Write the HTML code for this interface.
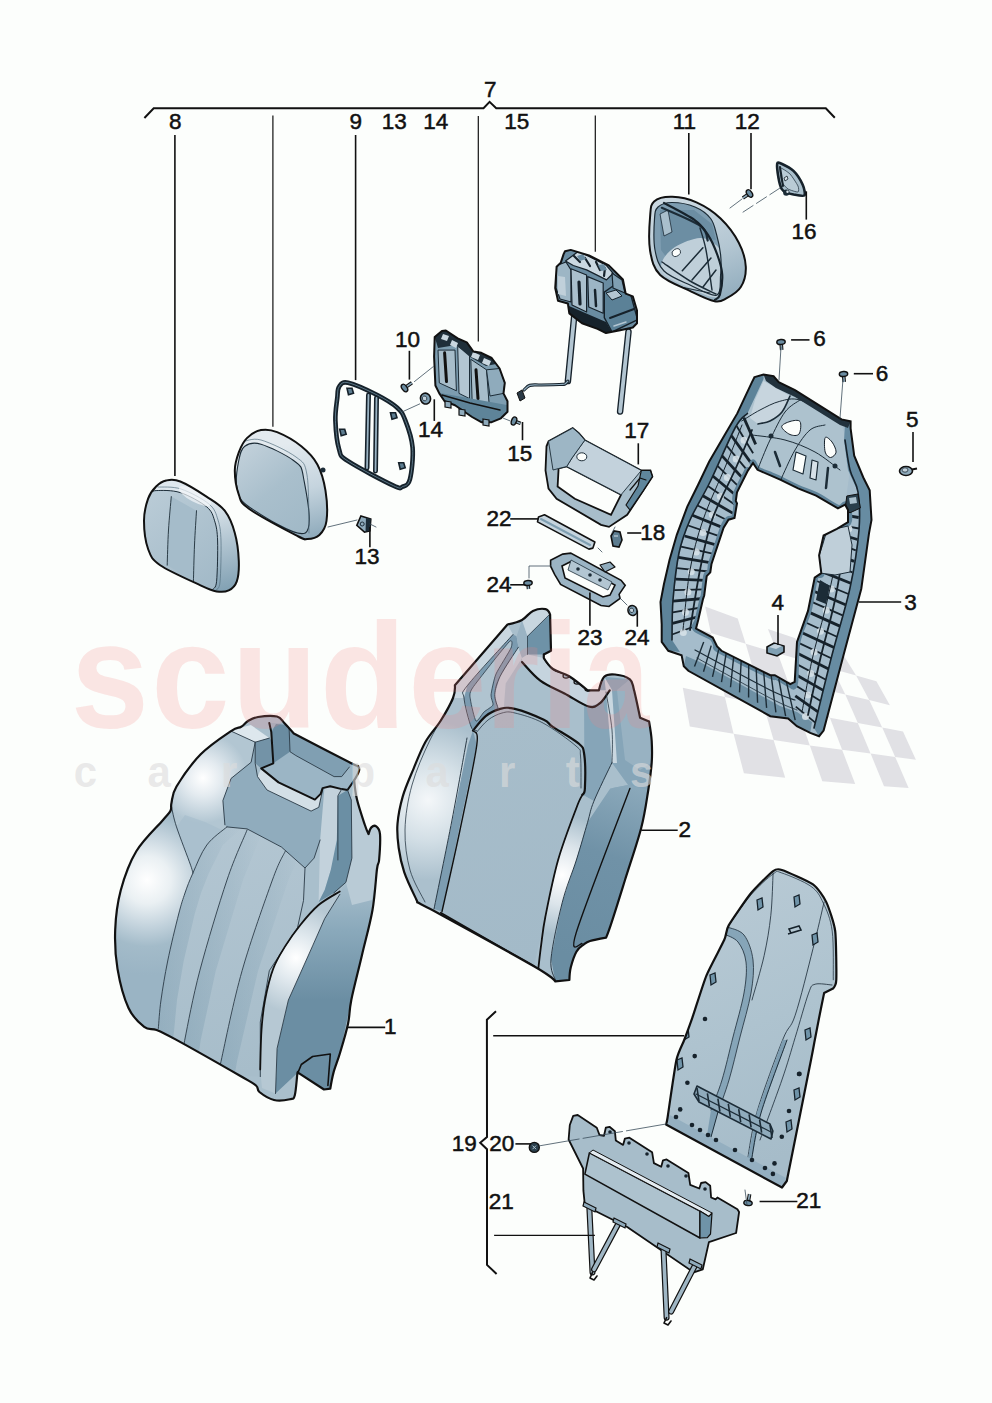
<!DOCTYPE html>
<html><head><meta charset="utf-8"><style>
html,body{margin:0;padding:0;background:#fcfefc;}
svg{display:block;}
text{font-family:"Liberation Sans",sans-serif;}
</style></head><body>
<svg width="992" height="1403" viewBox="0 0 992 1403">
<defs>
<linearGradient id="gSeatL" x1="0" y1="0" x2="1" y2="0">
 <stop offset="0" stop-color="#c9d7e0"/><stop offset="0.35" stop-color="#e4ebf0"/><stop offset="1" stop-color="#a9bfcc"/>
</linearGradient>
<linearGradient id="gMid" x1="0" y1="0" x2="1" y2="1">
 <stop offset="0" stop-color="#b9cbd6"/><stop offset="1" stop-color="#9fb7c6"/>
</linearGradient>
<linearGradient id="gDark" x1="0" y1="0" x2="1" y2="0">
 <stop offset="0" stop-color="#86a6b8"/><stop offset="1" stop-color="#5f869c"/>
</linearGradient>
<linearGradient id="gHead" x1="0" y1="0" x2="1" y2="1">
 <stop offset="0" stop-color="#c5d4de"/><stop offset="0.5" stop-color="#b3c6d2"/><stop offset="1" stop-color="#8eaabb"/>
</linearGradient>
<linearGradient id="gFrame" x1="0" y1="0" x2="1" y2="0">
 <stop offset="0" stop-color="#7f9fb2"/><stop offset="0.5" stop-color="#a3bccb"/><stop offset="1" stop-color="#6f92a6"/>
</linearGradient>
<clipPath id="c1"><path d="M248.0,721.0 C250.8,719.4 253.2,717.8 258.0,717.0 C262.8,716.2 272.6,715.5 277.0,716.5 C281.4,717.5 281.5,720.2 284.3,723.0 C287.1,725.8 293.8,733.5 293.8,733.5 C293.8,733.5 340.6,757.8 351.3,763.2 C362.0,768.6 356.7,764.8 358.0,766.1 C359.3,767.4 359.6,768.5 359.0,770.9 C358.4,773.3 354.2,780.4 354.2,780.4 C354.2,780.4 355.2,792.2 357.0,799.6 C358.8,807.0 362.8,818.8 364.7,824.5 C366.6,830.2 368.5,834.1 368.5,834.1 C368.5,834.1 370.1,828.7 371.4,827.4 C372.7,826.1 374.8,825.3 376.2,826.4 C377.6,827.5 379.5,828.5 380.0,834.1 C380.5,839.7 379.6,854.2 379.1,860.0 C378.6,865.8 378.1,860.7 377.0,869.0 C375.9,877.3 375.0,895.7 372.5,910.0 C370.0,924.3 365.5,940.0 362.0,955.0 C358.5,970.0 353.6,988.5 351.3,1000.0 C349.0,1011.5 349.9,1015.2 348.0,1024.0 C346.1,1032.8 342.4,1044.9 340.0,1053.0 C337.6,1061.1 335.1,1066.6 333.5,1072.6 C331.9,1078.5 330.3,1088.7 330.3,1088.7 C330.3,1088.7 324.0,1089.5 324.0,1089.5 C324.0,1089.5 298.0,1072.6 298.0,1072.6 C298.0,1072.6 297.8,1070.4 297.3,1074.2 C296.8,1078.0 296.0,1091.0 294.8,1095.2 C293.6,1099.4 293.5,1098.4 290.0,1099.2 C286.5,1100.0 279.1,1101.2 274.0,1100.0 C268.9,1098.8 262.4,1094.4 259.4,1092.0 C256.4,1089.6 259.2,1088.2 256.0,1085.5 C252.8,1082.8 253.4,1083.5 240.0,1075.8 C226.6,1068.1 189.4,1047.0 175.5,1039.4 C161.6,1031.8 161.9,1032.1 156.7,1030.0 C151.5,1027.9 148.9,1030.6 144.2,1026.9 C139.5,1023.2 132.9,1017.7 128.5,1008.0 C124.0,998.3 119.7,981.9 117.5,968.9 C115.3,955.9 114.7,942.8 115.2,929.7 C115.7,916.6 117.2,903.6 120.7,890.5 C124.2,877.4 129.2,863.0 136.3,851.3 C143.4,839.5 157.3,826.8 163.0,820.0 C168.7,813.2 169.1,813.6 170.5,810.7 C171.9,807.8 170.5,806.7 171.5,802.7 C172.5,798.7 171.6,794.6 176.5,786.5 C181.4,778.4 191.6,763.5 200.7,754.3 C209.8,745.1 224.2,735.7 231.0,731.1 C237.8,726.5 238.4,728.5 241.2,726.8 C244.0,725.1 245.2,722.6 248.0,721.0 Z"/></clipPath>
<radialGradient id="hl1" cx="147" cy="880" r="95" gradientUnits="userSpaceOnUse">
 <stop offset="0" stop-color="#ffffff"/><stop offset="0.25" stop-color="#eaf0f3"/><stop offset="0.5" stop-color="#c2d2dc"/><stop offset="0.7" stop-color="#a3bbc9"/><stop offset="1" stop-color="#9ab4c4"/></radialGradient>
<radialGradient id="hl2" cx="203" cy="778" r="45" gradientUnits="userSpaceOnUse">
 <stop offset="0" stop-color="#ffffff"/><stop offset="0.4" stop-color="#e4ebf0"/><stop offset="1" stop-color="#b2c6d2"/></radialGradient>
<radialGradient id="hl3" cx="296" cy="958" r="55" gradientUnits="userSpaceOnUse">
 <stop offset="0" stop-color="#ffffff"/><stop offset="0.4" stop-color="#e2eaef"/><stop offset="1" stop-color="#b6c8d3"/></radialGradient>
<linearGradient id="side1" x1="0" y1="860" x2="0" y2="1000" gradientUnits="userSpaceOnUse">
 <stop offset="0" stop-color="#b4c7d3"/><stop offset="0.5" stop-color="#8aa9bb"/><stop offset="1" stop-color="#6b8ea3"/></linearGradient>
<linearGradient id="ctr1" x1="200" y1="830" x2="260" y2="1070" gradientUnits="userSpaceOnUse">
 <stop offset="0" stop-color="#b3c6d2"/><stop offset="1" stop-color="#a7bdca"/></linearGradient>
<linearGradient id="stb" x1="0" y1="0" x2="1" y2="0"><stop offset="0" stop-color="#6f93a8" stop-opacity="0.38"/><stop offset="1" stop-color="#6f93a8" stop-opacity="0"/></linearGradient><clipPath id="c2"><path d="M507.5,624.5 C507.5,624.5 517.8,622.3 522.0,620.0 C526.2,617.7 529.0,612.7 532.9,610.9 C536.8,609.1 542.7,608.5 545.6,609.1 C548.5,609.7 550.1,614.5 550.1,614.5 C550.1,614.5 551.0,650.8 551.0,650.8 C551.0,650.8 543.8,654.4 543.8,654.4 C543.8,654.4 543.8,658.0 543.8,658.0 C543.8,658.0 548.7,666.0 552.9,669.0 C557.1,672.0 563.4,672.7 569.2,676.2 C575.0,679.8 587.6,690.3 587.6,690.3 C587.6,690.3 598.9,690.3 598.9,690.3 C598.9,690.3 601.5,679.3 604.2,676.7 C606.9,674.1 610.7,674.1 615.0,674.5 C619.3,674.9 626.7,676.7 629.9,679.3 C633.1,681.9 632.3,683.6 634.0,690.0 C635.7,696.4 640.1,717.8 640.1,717.8 C640.1,717.8 649.1,721.6 649.1,721.6 C649.1,721.6 651.3,734.1 651.7,741.0 C652.1,747.9 652.3,754.5 651.7,762.7 C651.1,770.9 650.0,779.1 648.3,790.0 C646.5,800.9 645.1,813.0 641.2,828.0 C637.3,843.0 629.9,864.3 625.0,880.0 C620.1,895.7 614.9,912.5 611.7,922.1 C608.6,931.7 606.1,937.6 606.1,937.6 C606.1,937.6 593.8,939.8 590.0,941.0 C586.2,942.2 585.8,942.9 583.5,944.7 C581.2,946.5 578.5,947.9 576.4,951.7 C574.3,955.5 572.0,962.6 570.8,967.3 C569.6,972.0 569.4,980.0 569.4,980.0 C569.4,980.0 555.3,981.4 555.3,981.4 C555.3,981.4 553.1,977.4 534.0,966.3 C514.9,955.1 459.6,925.0 440.5,914.5 C421.4,904.0 423.3,905.8 419.3,903.3 C415.3,900.8 418.8,904.6 416.3,899.4 C413.8,894.2 407.1,880.7 404.2,872.1 C401.3,863.5 399.8,856.0 398.7,848.0 C397.6,840.0 396.8,832.4 397.5,823.8 C398.2,815.2 400.1,805.7 402.7,796.6 C405.3,787.5 409.5,778.4 413.3,769.3 C417.1,760.2 420.9,750.0 425.4,742.0 C429.9,734.0 435.9,728.3 440.5,721.0 C445.1,713.7 450.6,704.0 453.0,698.0 C455.4,692.0 454.9,685.3 454.9,685.3 C454.9,685.3 507.5,624.5 507.5,624.5 Z"/></clipPath>
<radialGradient id="hl21" cx="428" cy="800" r="80" gradientUnits="userSpaceOnUse">
 <stop offset="0" stop-color="#f4f7f9"/><stop offset="0.5" stop-color="#d3dfe6"/><stop offset="1" stop-color="#abc0cd"/></radialGradient>
<radialGradient id="hl22" cx="562" cy="875" r="60" gradientUnits="userSpaceOnUse">
 <stop offset="0" stop-color="#ffffff"/><stop offset="0.5" stop-color="#dbe4ea"/><stop offset="1" stop-color="#a9bfcc"/></radialGradient>
<linearGradient id="dk2" x1="640" y1="790" x2="580" y2="960" gradientUnits="userSpaceOnUse">
 <stop offset="0" stop-color="#8aa8ba"/><stop offset="0.4" stop-color="#7092a7"/><stop offset="1" stop-color="#6a8da2"/></linearGradient>
<linearGradient id="ctr2" x1="480" y1="720" x2="540" y2="960" gradientUnits="userSpaceOnUse">
 <stop offset="0" stop-color="#a7bdca"/><stop offset="1" stop-color="#a3bac8"/></linearGradient>
<clipPath id="c3"><path d="M754.5,377.1 L763.5,374.6 L773.6,376.1 L778.7,382.1 L795.0,390.2 L841.5,419.4 L850.6,421.3 L850.6,428.5 L854.2,455.7 L863.3,477.5 L869.7,490.2 L871.5,520.0 L869.0,533.3 L861.3,588.7 L843.5,655.2 L823.6,730.6 L819.1,736.2 L810.2,732.9 L796.9,726.2 L788.1,718.5 L770.3,716.2 L688.3,670.8 L683.8,666.3 L681.6,655.2 L668.3,650.8 L661.7,641.9 L661.7,624.2 L660.5,602.0 L663.9,584.3 L669.5,560.0 L676.8,534.8 L687.3,506.6 L698.0,485.0 L709.1,461.8 L723.2,437.6 L737.3,413.4 L751.5,383.1 Z M753.0,463.0 L757.5,469.8 L771.6,475.9 L780.7,479.9 L798.0,488.4 L816.1,495.6 L837.9,508.3 L845.2,504.7 L848.0,510.0 L848.0,522.2 L836.9,528.8 L823.6,535.5 L819.1,555.4 L821.3,573.2 L814.7,577.6 L808.0,610.9 L797.0,641.9 L794.7,681.9 L790.3,684.1 L774.8,675.2 L770.3,675.2 L721.5,650.8 L717.1,646.4 L712.7,637.5 L696.0,628.6 L698.2,620.0 L703.0,599.1 L704.2,595.5 L706.7,576.1 L710.3,572.4 L711.5,563.9 L713.9,556.7 L723.6,527.6 L728.5,519.7 L734.5,517.9 L737.0,503.3 L735.8,500.9 L737.0,492.4 L747.9,470.6 Z" clip-rule="evenodd"/></clipPath><clipPath id="cbp"><path d="M728.7,925.4 C731.4,920.8 746.5,898.7 750.9,893.3 C755.3,887.9 770.0,873.4 773.1,871.1 C776.2,868.8 777.9,868.7 781.9,870.0 C785.9,871.3 808.6,881.2 813.0,884.4 C817.4,887.6 824.1,897.4 826.3,902.1 C828.5,906.8 834.2,923.2 835.2,931.0 C836.2,938.8 836.5,974.0 836.3,979.8 C836.1,985.6 833.0,988.6 833.0,988.6 C833.0,988.6 824.1,993.1 824.1,993.1 C824.1,993.1 820.5,1010.5 819.6,1015.2 C818.7,1019.9 815.7,1035.5 814.8,1040.0 C813.9,1044.5 813.8,1045.9 811.0,1060.0 C808.2,1074.1 786.8,1181.0 786.8,1181.0 C786.8,1181.0 782.0,1187.5 782.0,1187.5 C782.0,1187.5 666.0,1124.5 666.0,1124.5 C666.0,1124.5 666.5,1124.5 667.5,1118.0 C668.5,1111.5 674.7,1067.8 676.4,1060.0 C678.1,1052.2 682.5,1044.5 684.2,1040.0 C685.9,1035.5 691.0,1021.7 693.2,1015.2 C695.4,1008.7 703.4,982.8 706.5,975.3 C709.6,967.8 722.1,944.8 724.3,939.8 C726.5,934.8 726.0,930.0 728.7,925.4 Z"/></clipPath>
<linearGradient id="gbp" x1="700" y1="900" x2="800" y2="1150" gradientUnits="userSpaceOnUse">
 <stop offset="0" stop-color="#b7c9d4"/><stop offset="0.5" stop-color="#aec3cf"/><stop offset="1" stop-color="#a6bcc9"/></linearGradient>
<clipPath id="c11"><path d="M654.1,201.4 C657.8,198.1 665.2,196.6 672.3,196.8 C679.4,197.0 688.5,198.8 696.5,202.4 C704.5,206.0 713.6,211.8 720.6,218.5 C727.6,225.2 734.6,234.6 738.8,242.7 C743.0,250.8 745.5,259.5 745.8,266.9 C746.1,274.3 744.0,281.9 740.8,287.1 C737.6,292.3 731.1,295.9 726.7,298.2 C722.3,300.5 720.7,302.4 714.6,301.2 C708.5,300.0 699.5,295.5 690.4,291.1 C681.3,286.7 666.9,281.7 660.2,275.0 C653.5,268.3 651.8,260.6 650.1,250.8 C648.4,241.1 649.4,224.7 650.1,216.5 C650.8,208.3 650.4,204.7 654.1,201.4 Z"/></clipPath>
<linearGradient id="g11" x1="700" y1="200" x2="740" y2="300" gradientUnits="userSpaceOnUse">
 <stop offset="0" stop-color="#c9d7e0"/><stop offset="0.5" stop-color="#b3c6d2"/><stop offset="1" stop-color="#8eaabb"/></linearGradient>
<clipPath id="cmB"><path d="M565.0,251.3 L570.7,249.9 L589.0,255.5 L608.8,265.4 L614.4,271.0 L622.9,279.5 L625.7,293.6 L632.8,296.4 L637.0,310.6 L637.0,323.3 L632.8,327.5 L620.1,330.3 L606.0,333.1 L597.5,328.9 L582.0,323.3 L569.3,313.4 L567.9,303.5 L558.0,300.7 L555.2,288.0 L556.6,266.8 L560.8,262.6 L563.6,254.1 Z"/></clipPath><clipPath id="cmA"><path d="M434.7,337.0 L441.9,331.1 L445.9,330.5 L457.7,338.3 L466.8,342.3 L473.4,351.5 L481.3,352.8 L491.7,358.0 L499.6,368.5 L504.8,382.9 L503.5,393.4 L507.5,401.3 L507.5,411.7 L500.9,418.3 L491.7,422.2 L481.3,422.2 L472.1,417.0 L455.0,405.2 L444.6,401.3 L439.3,393.4 L435.4,385.5 L434.1,356.7 Z"/></clipPath><clipPath id="c8"><path d="M166.2,480.5 C170.2,479.7 173.6,478.8 180.3,481.5 C187.0,484.2 199.1,491.7 206.5,496.6 C213.9,501.5 220.0,504.6 224.7,510.7 C229.4,516.8 232.5,524.5 234.8,532.9 C237.2,541.3 238.5,553.0 238.8,561.1 C239.1,569.2 238.5,576.4 236.8,581.3 C235.1,586.2 232.1,588.7 228.7,590.4 C225.3,592.1 221.3,592.2 216.6,591.4 C211.9,590.5 209.9,589.7 200.5,585.3 C191.1,580.9 168.9,571.2 160.2,565.2 C151.5,559.2 150.8,556.4 148.1,549.0 C145.4,541.6 144.0,529.2 144.0,520.8 C144.0,512.4 146.1,504.3 148.1,498.6 C150.1,492.9 153.1,489.5 156.1,486.5 C159.1,483.5 162.2,481.3 166.2,480.5 Z"/></clipPath>
<linearGradient id="g8s" x1="215" y1="500" x2="238" y2="590" gradientUnits="userSpaceOnUse">
 <stop offset="0" stop-color="#dfe8ee"/><stop offset="0.45" stop-color="#b3c6d2"/><stop offset="1" stop-color="#7f9fb2"/></linearGradient>
<linearGradient id="g8f" x1="145" y1="500" x2="215" y2="580" gradientUnits="userSpaceOnUse">
 <stop offset="0" stop-color="#b9cbd6"/><stop offset="1" stop-color="#a3bac8"/></linearGradient>
<clipPath id="chc"><path d="M261.0,430.1 C266.0,429.1 270.4,429.4 277.1,432.1 C283.8,434.8 294.6,440.8 301.3,446.2 C308.0,451.6 313.4,457.0 317.4,464.4 C321.4,471.8 324.0,481.2 325.5,490.6 C327.0,500.0 327.5,513.4 326.5,520.8 C325.5,528.2 322.6,531.9 319.4,534.9 C316.2,537.9 311.0,538.8 307.3,539.0 C303.6,539.2 307.0,540.9 297.3,535.9 C287.6,530.9 258.6,515.6 248.9,508.7 C239.2,501.8 241.2,501.0 238.8,494.6 C236.5,488.2 234.8,477.4 234.8,470.4 C234.8,463.3 236.8,457.7 238.8,452.3 C240.8,446.9 243.2,441.8 246.9,438.1 C250.6,434.4 256.0,431.1 261.0,430.1 Z"/></clipPath>
<linearGradient id="ghcs" x1="300" y1="440" x2="325" y2="535" gradientUnits="userSpaceOnUse">
 <stop offset="0" stop-color="#e3eaef"/><stop offset="0.5" stop-color="#c5d4de"/><stop offset="1" stop-color="#8eaabb"/></linearGradient>
<linearGradient id="ghcf" x1="240" y1="450" x2="305" y2="530" gradientUnits="userSpaceOnUse">
 <stop offset="0" stop-color="#c1d0da"/><stop offset="0.5" stop-color="#a9bfcc"/><stop offset="1" stop-color="#a1b9c7"/></linearGradient>
</defs>
<rect width="992" height="1403" fill="#fcfefc"/>
<g><path d="M705.1,606.5 L737.7,618.5 L745.7,643.7 L710.9,632.9 Z" fill="#e1e1e5" stroke="none" stroke-width="1.6" stroke-linejoin="round" /><path d="M767.9,629.1 L795.4,638.3 L806.8,661.6 L777.7,653.2 Z" fill="#e1e1e5" stroke="none" stroke-width="1.6" stroke-linejoin="round" /><path d="M820.3,646.5 L842.6,653.7 L856.1,675.4 L832.9,668.9 Z" fill="#e1e1e5" stroke="none" stroke-width="1.6" stroke-linejoin="round" /><path d="M673.1,620.5 L710.9,632.9 L717.4,663.2 L677.4,652.3 Z" fill="#e1e1e5" stroke="none" stroke-width="1.6" stroke-linejoin="round" /><path d="M745.7,643.7 L777.7,653.2 L787.8,681.0 L754.2,672.7 Z" fill="#e1e1e5" stroke="none" stroke-width="1.6" stroke-linejoin="round" /><path d="M806.8,661.6 L832.9,668.9 L845.3,694.5 L818.2,688.2 Z" fill="#e1e1e5" stroke="none" stroke-width="1.6" stroke-linejoin="round" /><path d="M856.1,675.4 L876.4,681.3 L889.9,705.2 L869.2,700.1 Z" fill="#e1e1e5" stroke="none" stroke-width="1.6" stroke-linejoin="round" /><path d="M717.4,663.2 L754.2,672.7 L763.4,704.9 L724.9,697.0 Z" fill="#e1e1e5" stroke="none" stroke-width="1.6" stroke-linejoin="round" /><path d="M787.8,681.0 L818.2,688.2 L829.9,717.7 L798.4,711.8 Z" fill="#e1e1e5" stroke="none" stroke-width="1.6" stroke-linejoin="round" /><path d="M845.3,694.5 L869.2,700.1 L882.2,727.4 L857.8,722.9 Z" fill="#e1e1e5" stroke="none" stroke-width="1.6" stroke-linejoin="round" /><path d="M682.8,687.7 L724.9,697.0 L733.6,733.8 L689.8,726.4 Z" fill="#e1e1e5" stroke="none" stroke-width="1.6" stroke-linejoin="round" /><path d="M763.4,704.9 L798.4,711.8 L809.8,745.4 L773.6,740.1 Z" fill="#e1e1e5" stroke="none" stroke-width="1.6" stroke-linejoin="round" /><path d="M829.9,717.7 L857.8,722.9 L870.6,753.6 L842.1,749.8 Z" fill="#e1e1e5" stroke="none" stroke-width="1.6" stroke-linejoin="round" /><path d="M882.2,727.4 L903.0,731.5 L915.9,759.8 L895.2,756.9 Z" fill="#e1e1e5" stroke="none" stroke-width="1.6" stroke-linejoin="round" /><path d="M733.6,733.8 L773.6,740.1 L785.2,777.7 L743.9,773.3 Z" fill="#e1e1e5" stroke="none" stroke-width="1.6" stroke-linejoin="round" /><path d="M809.8,745.4 L842.1,749.8 L855.2,784.0 L822.3,781.2 Z" fill="#e1e1e5" stroke="none" stroke-width="1.6" stroke-linejoin="round" /><path d="M870.6,753.6 L895.2,756.9 L908.6,788.0 L884.0,786.2 Z" fill="#e1e1e5" stroke="none" stroke-width="1.6" stroke-linejoin="round" /></g>
<g clip-path="url(#c1)"><path d="M248.0,721.0 C250.8,719.4 253.2,717.8 258.0,717.0 C262.8,716.2 272.6,715.5 277.0,716.5 C281.4,717.5 281.5,720.2 284.3,723.0 C287.1,725.8 293.8,733.5 293.8,733.5 C293.8,733.5 340.6,757.8 351.3,763.2 C362.0,768.6 356.7,764.8 358.0,766.1 C359.3,767.4 359.6,768.5 359.0,770.9 C358.4,773.3 354.2,780.4 354.2,780.4 C354.2,780.4 355.2,792.2 357.0,799.6 C358.8,807.0 362.8,818.8 364.7,824.5 C366.6,830.2 368.5,834.1 368.5,834.1 C368.5,834.1 370.1,828.7 371.4,827.4 C372.7,826.1 374.8,825.3 376.2,826.4 C377.6,827.5 379.5,828.5 380.0,834.1 C380.5,839.7 379.6,854.2 379.1,860.0 C378.6,865.8 378.1,860.7 377.0,869.0 C375.9,877.3 375.0,895.7 372.5,910.0 C370.0,924.3 365.5,940.0 362.0,955.0 C358.5,970.0 353.6,988.5 351.3,1000.0 C349.0,1011.5 349.9,1015.2 348.0,1024.0 C346.1,1032.8 342.4,1044.9 340.0,1053.0 C337.6,1061.1 335.1,1066.6 333.5,1072.6 C331.9,1078.5 330.3,1088.7 330.3,1088.7 C330.3,1088.7 324.0,1089.5 324.0,1089.5 C324.0,1089.5 298.0,1072.6 298.0,1072.6 C298.0,1072.6 297.8,1070.4 297.3,1074.2 C296.8,1078.0 296.0,1091.0 294.8,1095.2 C293.6,1099.4 293.5,1098.4 290.0,1099.2 C286.5,1100.0 279.1,1101.2 274.0,1100.0 C268.9,1098.8 262.4,1094.4 259.4,1092.0 C256.4,1089.6 259.2,1088.2 256.0,1085.5 C252.8,1082.8 253.4,1083.5 240.0,1075.8 C226.6,1068.1 189.4,1047.0 175.5,1039.4 C161.6,1031.8 161.9,1032.1 156.7,1030.0 C151.5,1027.9 148.9,1030.6 144.2,1026.9 C139.5,1023.2 132.9,1017.7 128.5,1008.0 C124.0,998.3 119.7,981.9 117.5,968.9 C115.3,955.9 114.7,942.8 115.2,929.7 C115.7,916.6 117.2,903.6 120.7,890.5 C124.2,877.4 129.2,863.0 136.3,851.3 C143.4,839.5 157.3,826.8 163.0,820.0 C168.7,813.2 169.1,813.6 170.5,810.7 C171.9,807.8 170.5,806.7 171.5,802.7 C172.5,798.7 171.6,794.6 176.5,786.5 C181.4,778.4 191.6,763.5 200.7,754.3 C209.8,745.1 224.2,735.7 231.0,731.1 C237.8,726.5 238.4,728.5 241.2,726.8 C244.0,725.1 245.2,722.6 248.0,721.0 Z" fill="#a9bfcc" stroke="none" stroke-width="1.6" stroke-linejoin="round" /><path d="M339.8,894.4 L352.0,858.0 L358.0,800.0 L380.0,834.0 L379.0,860.0 L372.5,910.0 L362.0,955.0 L351.3,1000.0 L340.0,1053.0 L330.3,1088.7 L324.0,1089.5 L298.0,1072.6 L275.5,1093.5 L277.1,1048.4 L288.4,1000.0 L300.5,973.0 L312.6,945.9 L324.7,918.6 Z" fill="url(#side1)" stroke="none" stroke-width="1.6" stroke-linejoin="round" /><path d="M354.2,780.4 L357.0,799.6 L364.7,824.5 L368.5,834.1 L371.4,827.4 L376.2,826.4 L380.0,834.1 L379.1,860.0 L372.0,900.0 L352.0,905.0 L345.9,882.3 L351.9,858.1 L351.3,800.0 Z" fill="#b9cbd6" stroke="none" stroke-width="1.6" stroke-linejoin="round" /><path d="M171.5,802.7 L171.5,806.7 L176.5,826.9 L190.6,865.2 L192.8,873.3 L185.0,893.0 L178.7,914.0 L167.7,961.0 L161.0,1000.0 L158.3,1028.5 L156.7,1030.0 L144.2,1026.9 L128.5,1008.0 L117.5,968.9 L115.2,929.7 L120.7,890.5 L136.3,851.3 L163.0,820.0 L170.5,810.7 Z" fill="url(#hl1)" stroke="none" stroke-width="1.6" stroke-linejoin="round" /><path d="M231.0,731.1 L200.7,754.3 L176.5,786.5 L171.5,806.7 L176.5,826.9 L190.6,865.2 L194.7,873.2 L206.8,845.0 L226.9,826.9 L224.9,824.8 L222.9,800.6 L231.0,778.5 L251.1,762.3 L255.2,742.2 Z" fill="url(#hl2)" stroke="none" stroke-width="1.6" stroke-linejoin="round" /><path d="M176.5,826.9 L190.6,865.2 L194.7,873.2 L206.8,845.0 L222.0,830.0 L205.0,822.0 L185.0,815.0 Z" fill="#a5bccb" stroke="none" stroke-width="1.6" stroke-linejoin="round" opacity="0.6"/><path d="M255.2,742.2 L255.2,763.3 L257.5,776.6 L267.0,790.0 L311.1,811.1 L318.8,807.3 L322.6,790.0 L324.5,787.1 L337.9,795.8 L337.9,860.0 L320.1,840.0 L314.1,858.1 L305.0,868.0 L285.4,850.6 L247.1,828.9 L226.9,826.9 L224.9,824.8 L222.9,800.6 L231.0,778.5 L251.1,762.3 Z" fill="#90acbd" stroke="none" stroke-width="1.6" stroke-linejoin="round" /><path d="M257.5,776.6 L261.2,768.4 L278.5,782.4 L314.9,799.6 L320.7,793.9 L322.6,788.1 L322.6,790.0 L318.8,807.3 L311.1,811.1 L267.0,790.0 Z" fill="#d3dfe6" stroke="none" stroke-width="1.6" stroke-linejoin="round" /><path d="M269.3,723.0 L284.3,723.0 L293.8,733.5 L351.3,763.2 L358.0,766.1 L359.0,770.9 L354.2,780.4 L347.5,790.0 L341.7,789.1 L330.2,786.2 L322.6,788.1 L320.7,793.9 L314.9,799.6 L278.5,782.4 L263.2,769.0 L261.2,768.4 L273.3,763.3 L271.3,732.1 Z" fill="#9bb5c5" stroke="none" stroke-width="1.6" stroke-linejoin="round" /><path d="M284.3,723.0 L293.8,733.5 L351.3,763.2 L349.4,767.0 L341.7,776.6 L334.1,776.6 L295.8,755.5 L290.0,751.7 L289.0,724.9 Z" fill="#809fb2" stroke="none" stroke-width="1.6" stroke-linejoin="round" /><path d="M271.3,732.1 L276.0,724.0 L289.0,724.9 L290.0,751.7 L273.3,763.3 Z" fill="#6a8ca1" stroke="none" stroke-width="1.6" stroke-linejoin="round" /><path d="M231.0,731.1 L243.0,727.0 L251.0,725.0 L269.3,738.1 L255.2,742.2 Z" fill="#dde7ed" stroke="none" stroke-width="1.6" stroke-linejoin="round" /><path d="M255.2,742.2 L269.3,738.1 L271.3,740.2 L273.3,763.3 L261.2,768.4 L255.2,763.3 Z" fill="#7393a7" stroke="none" stroke-width="1.6" stroke-linejoin="round" /><path d="M324.5,787.1 L341.7,789.1 L337.9,795.8 L337.9,860.0 L330.7,870.2 L324.7,889.9 L318.6,902.0 L320.1,840.0 Z" fill="#c3d2dc" stroke="none" stroke-width="1.6" stroke-linejoin="round" /><path d="M337.9,795.8 L347.5,790.0 L351.3,800.0 L351.9,858.1 L345.9,882.3 L333.8,892.9 L318.6,902.0 L324.7,889.9 L330.7,870.2 L336.8,840.0 Z" fill="#6b8fa4" stroke="none" stroke-width="1.6" stroke-linejoin="round" /><path d="M226.9,826.9 L247.1,828.9 L281.4,847.0 L285.4,850.6 L305.0,868.0 L303.5,900.5 L297.5,927.7 L269.3,970.7 L260.3,1022.1 L260.3,1076.6 L240.0,1075.8 L158.3,1030.0 L158.3,1028.5 L161.0,1000.0 L167.7,961.0 L178.7,914.0 L185.0,893.0 L192.8,873.3 L206.8,845.0 Z" fill="url(#ctr1)" stroke="none" stroke-width="1.6" stroke-linejoin="round" /><path d="M247.1,829.9 L227.0,880.0 L199.8,970.7 L184.7,1040.3 L181.0,1065.0 L197.0,1065.0 L200.7,1040.3 L215.8,970.7 L243.0,880.0 L263.1,829.9 Z" fill="url(#stb)" stroke="none" stroke-width="1.6" stroke-linejoin="round" /><path d="M285.4,851.0 L272.4,880.0 L242.1,970.7 L221.0,1061.4 L217.0,1085.0 L233.0,1085.0 L237.0,1061.4 L258.1,970.7 L288.4,880.0 L301.4,851.0 Z" fill="url(#stb)" stroke="none" stroke-width="1.6" stroke-linejoin="round" /><path d="M226.9,826.9 L206.8,845.0 L192.8,873.3 L185.0,893.0 L178.7,914.0 L167.7,961.0 L161.0,1000.0 L158.3,1028.5 L156.0,1050.0 L172.0,1050.0 L174.3,1028.5 L177.0,1000.0 L183.7,961.0 L194.7,914.0 L201.0,893.0 L208.8,873.3 L222.8,845.0 L242.9,826.9 Z" fill="url(#stb)" stroke="none" stroke-width="1.6" stroke-linejoin="round" /><path d="M339.8,891.4 L318.6,905.0 L300.5,924.7 L285.4,945.9 L273.3,968.5 L265.0,1000.0 L261.5,1030.0 L260.2,1069.4 L262.0,1088.0 L275.5,1093.5 L277.1,1048.4 L288.4,1000.0 L300.5,973.0 L312.6,945.9 L324.7,918.6 L339.8,894.4 Z" fill="url(#hl3)" stroke="none" stroke-width="1.6" stroke-linejoin="round" /><path d="M247.1,829.9 C243.8,838.2 234.9,856.5 227.0,880.0 C219.1,903.5 206.9,944.0 199.8,970.7 C192.8,997.4 187.8,1024.6 184.7,1040.3 C181.6,1056.0 181.6,1060.9 181.0,1065.0" fill="none" stroke="#2a3a46" stroke-width="0.9" stroke-linejoin="round" stroke-linecap="round" /><path d="M285.4,851.0 C283.2,855.8 279.6,860.0 272.4,880.0 C265.2,900.0 250.7,940.5 242.1,970.7 C233.5,1000.9 225.2,1042.4 221.0,1061.4 C216.8,1080.5 217.7,1081.1 217.0,1085.0" fill="none" stroke="#2a3a46" stroke-width="0.9" stroke-linejoin="round" stroke-linecap="round" /><path d="M226.9,826.9 L247.1,828.9 L281.4,847.0 L305.0,868.0 L314.1,858.1 L320.1,840.0" fill="none" stroke="#2a3a46" stroke-width="0.9" stroke-linejoin="round" stroke-linecap="round" /><path d="M305.0,868.0 L303.5,900.5 L297.5,927.7 L269.3,970.7 L260.3,1022.1 L260.3,1076.6" fill="none" stroke="#2a3a46" stroke-width="0.9" stroke-linejoin="round" stroke-linecap="round" /><path d="M226.9,826.9 C223.6,829.9 212.5,837.3 206.8,845.0 C201.1,852.7 196.4,865.3 192.8,873.3 C189.2,881.3 187.3,886.2 185.0,893.0 C182.7,899.8 181.6,902.7 178.7,914.0 C175.8,925.3 170.6,946.7 167.7,961.0 C164.8,975.3 162.6,988.8 161.0,1000.0 C159.4,1011.2 158.8,1023.8 158.3,1028.5" fill="none" stroke="#2a3a46" stroke-width="0.9" stroke-linejoin="round" stroke-linecap="round" /><path d="M171.5,806.7 C172.3,810.1 173.3,817.1 176.5,826.9 C179.7,836.6 187.9,857.5 190.6,865.2 C193.3,872.9 192.4,871.9 192.8,873.3" fill="none" stroke="#2a3a46" stroke-width="0.9" stroke-linejoin="round" stroke-linecap="round" /><path d="M231.0,731.1 L255.2,742.2 L251.1,762.3 L231.0,778.5 L222.9,800.6 L224.9,824.8" fill="none" stroke="#2a3a46" stroke-width="0.9" stroke-linejoin="round" stroke-linecap="round" /><path d="M255.2,742.2 L269.3,738.1" fill="none" stroke="#2a3a46" stroke-width="0.9" stroke-linejoin="round" stroke-linecap="round" /><path d="M255.2,742.2 L255.2,763.3 L257.5,776.6 L267.0,790.0 L311.1,811.1 L318.8,807.3 L322.6,790.0" fill="none" stroke="#2a3a46" stroke-width="0.9" stroke-linejoin="round" stroke-linecap="round" /><path d="M269.3,723.0 L271.3,732.1 L273.3,763.3 L261.2,768.4 L278.5,782.4 L314.9,799.6 L320.7,793.9 L322.6,788.1 L330.2,786.2 L341.7,789.1 L347.5,790.0 L354.2,780.4" fill="none" stroke="#111" stroke-width="2" stroke-linejoin="round" stroke-linecap="round" /><path d="M289.0,724.9 L290.0,751.7 L295.8,755.5 L334.1,776.6 L341.7,776.6 L349.4,767.0" fill="none" stroke="#2a3a46" stroke-width="0.9" stroke-linejoin="round" stroke-linecap="round" /><path d="M341.7,789.1 L337.9,795.8 L337.9,860.0" fill="none" stroke="#2a3a46" stroke-width="0.9" stroke-linejoin="round" stroke-linecap="round" /><path d="M347.5,790.0 L351.3,800.0 L351.9,858.1 L345.9,882.3 L333.8,892.9" fill="none" stroke="#2a3a46" stroke-width="0.9" stroke-linejoin="round" stroke-linecap="round" /><path d="M339.8,891.4 C336.3,893.7 325.2,899.5 318.6,905.0 C312.1,910.5 306.0,917.9 300.5,924.7 C295.0,931.5 289.9,938.6 285.4,945.9 C280.9,953.2 276.7,959.5 273.3,968.5 C269.9,977.5 267.0,989.8 265.0,1000.0 C263.0,1010.2 262.3,1018.4 261.5,1030.0 C260.7,1041.6 260.4,1062.8 260.2,1069.4" fill="none" stroke="#111" stroke-width="1.8" stroke-linejoin="round" stroke-linecap="round" /><path d="M339.8,894.4 L324.7,918.6 L312.6,945.9 L300.5,973.0 L288.4,1000.0 L277.1,1048.4 L275.5,1093.5" fill="none" stroke="#2a3a46" stroke-width="0.9" stroke-linejoin="round" stroke-linecap="round" /><path d="M298.0,1072.6 L301.3,1064.5 L312.6,1056.5 L330.3,1054.0 L327.9,1085.5" fill="none" stroke="#111" stroke-width="1.6" stroke-linejoin="round" stroke-linecap="round" /></g><path d="M248.0,721.0 C250.8,719.4 253.2,717.8 258.0,717.0 C262.8,716.2 272.6,715.5 277.0,716.5 C281.4,717.5 281.5,720.2 284.3,723.0 C287.1,725.8 293.8,733.5 293.8,733.5 C293.8,733.5 340.6,757.8 351.3,763.2 C362.0,768.6 356.7,764.8 358.0,766.1 C359.3,767.4 359.6,768.5 359.0,770.9 C358.4,773.3 354.2,780.4 354.2,780.4 C354.2,780.4 355.2,792.2 357.0,799.6 C358.8,807.0 362.8,818.8 364.7,824.5 C366.6,830.2 368.5,834.1 368.5,834.1 C368.5,834.1 370.1,828.7 371.4,827.4 C372.7,826.1 374.8,825.3 376.2,826.4 C377.6,827.5 379.5,828.5 380.0,834.1 C380.5,839.7 379.6,854.2 379.1,860.0 C378.6,865.8 378.1,860.7 377.0,869.0 C375.9,877.3 375.0,895.7 372.5,910.0 C370.0,924.3 365.5,940.0 362.0,955.0 C358.5,970.0 353.6,988.5 351.3,1000.0 C349.0,1011.5 349.9,1015.2 348.0,1024.0 C346.1,1032.8 342.4,1044.9 340.0,1053.0 C337.6,1061.1 335.1,1066.6 333.5,1072.6 C331.9,1078.5 330.3,1088.7 330.3,1088.7 C330.3,1088.7 324.0,1089.5 324.0,1089.5 C324.0,1089.5 298.0,1072.6 298.0,1072.6 C298.0,1072.6 297.8,1070.4 297.3,1074.2 C296.8,1078.0 296.0,1091.0 294.8,1095.2 C293.6,1099.4 293.5,1098.4 290.0,1099.2 C286.5,1100.0 279.1,1101.2 274.0,1100.0 C268.9,1098.8 262.4,1094.4 259.4,1092.0 C256.4,1089.6 259.2,1088.2 256.0,1085.5 C252.8,1082.8 253.4,1083.5 240.0,1075.8 C226.6,1068.1 189.4,1047.0 175.5,1039.4 C161.6,1031.8 161.9,1032.1 156.7,1030.0 C151.5,1027.9 148.9,1030.6 144.2,1026.9 C139.5,1023.2 132.9,1017.7 128.5,1008.0 C124.0,998.3 119.7,981.9 117.5,968.9 C115.3,955.9 114.7,942.8 115.2,929.7 C115.7,916.6 117.2,903.6 120.7,890.5 C124.2,877.4 129.2,863.0 136.3,851.3 C143.4,839.5 157.3,826.8 163.0,820.0 C168.7,813.2 169.1,813.6 170.5,810.7 C171.9,807.8 170.5,806.7 171.5,802.7 C172.5,798.7 171.6,794.6 176.5,786.5 C181.4,778.4 191.6,763.5 200.7,754.3 C209.8,745.1 224.2,735.7 231.0,731.1 C237.8,726.5 238.4,728.5 241.2,726.8 C244.0,725.1 245.2,722.6 248.0,721.0 Z" fill="none" stroke="#111" stroke-width="2.2" stroke-linejoin="round" /><g clip-path="url(#c2)"><path d="M507.5,624.5 C507.5,624.5 517.8,622.3 522.0,620.0 C526.2,617.7 529.0,612.7 532.9,610.9 C536.8,609.1 542.7,608.5 545.6,609.1 C548.5,609.7 550.1,614.5 550.1,614.5 C550.1,614.5 551.0,650.8 551.0,650.8 C551.0,650.8 543.8,654.4 543.8,654.4 C543.8,654.4 543.8,658.0 543.8,658.0 C543.8,658.0 548.7,666.0 552.9,669.0 C557.1,672.0 563.4,672.7 569.2,676.2 C575.0,679.8 587.6,690.3 587.6,690.3 C587.6,690.3 598.9,690.3 598.9,690.3 C598.9,690.3 601.5,679.3 604.2,676.7 C606.9,674.1 610.7,674.1 615.0,674.5 C619.3,674.9 626.7,676.7 629.9,679.3 C633.1,681.9 632.3,683.6 634.0,690.0 C635.7,696.4 640.1,717.8 640.1,717.8 C640.1,717.8 649.1,721.6 649.1,721.6 C649.1,721.6 651.3,734.1 651.7,741.0 C652.1,747.9 652.3,754.5 651.7,762.7 C651.1,770.9 650.0,779.1 648.3,790.0 C646.5,800.9 645.1,813.0 641.2,828.0 C637.3,843.0 629.9,864.3 625.0,880.0 C620.1,895.7 614.9,912.5 611.7,922.1 C608.6,931.7 606.1,937.6 606.1,937.6 C606.1,937.6 593.8,939.8 590.0,941.0 C586.2,942.2 585.8,942.9 583.5,944.7 C581.2,946.5 578.5,947.9 576.4,951.7 C574.3,955.5 572.0,962.6 570.8,967.3 C569.6,972.0 569.4,980.0 569.4,980.0 C569.4,980.0 555.3,981.4 555.3,981.4 C555.3,981.4 553.1,977.4 534.0,966.3 C514.9,955.1 459.6,925.0 440.5,914.5 C421.4,904.0 423.3,905.8 419.3,903.3 C415.3,900.8 418.8,904.6 416.3,899.4 C413.8,894.2 407.1,880.7 404.2,872.1 C401.3,863.5 399.8,856.0 398.7,848.0 C397.6,840.0 396.8,832.4 397.5,823.8 C398.2,815.2 400.1,805.7 402.7,796.6 C405.3,787.5 409.5,778.4 413.3,769.3 C417.1,760.2 420.9,750.0 425.4,742.0 C429.9,734.0 435.9,728.3 440.5,721.0 C445.1,713.7 450.6,704.0 453.0,698.0 C455.4,692.0 454.9,685.3 454.9,685.3 C454.9,685.3 507.5,624.5 507.5,624.5 Z" fill="#a9bfcc" stroke="none" stroke-width="1.6" stroke-linejoin="round" /><path d="M584.0,690.0 L600.0,690.0 L604.2,676.7 L629.9,679.3 L640.1,717.8 L649.1,721.6 L651.7,762.7 L648.3,800.0 L630.0,790.0 L610.0,788.0 L594.0,801.0 L582.4,794.8 L584.9,788.4 L584.3,755.0 Z" fill="#86a5b8" stroke="none" stroke-width="1.6" stroke-linejoin="round" /><path d="M604.2,676.7 L612.0,690.0 L617.0,763.0 L612.0,763.0 L606.0,692.0 Z" fill="#c9d7e0" stroke="none" stroke-width="1.6" stroke-linejoin="round" /><path d="M617.0,690.0 L629.9,679.3 L640.1,717.8 L649.1,721.6 L651.7,762.7 L640.0,770.0 L625.0,760.0 L618.0,700.0 Z" fill="#98b2c2" stroke="none" stroke-width="1.6" stroke-linejoin="round" /><path d="M453.0,698.0 L440.5,721.0 L425.4,742.0 L413.3,769.3 L402.7,796.6 L397.5,823.8 L398.7,848.0 L404.2,872.1 L416.3,899.4 L419.3,903.3 L440.5,914.5 L442.0,911.5 L476.8,745.0 L473.0,730.6 L471.2,727.0 L464.0,698.0 L467.6,685.3 L454.9,685.3 Z" fill="url(#hl21)" stroke="none" stroke-width="1.6" stroke-linejoin="round" /><path d="M507.5,624.5 L454.9,685.3 L453.1,698.0 L464.0,698.0 L467.6,685.3 L513.0,634.5 Z" fill="#c9d7e0" stroke="none" stroke-width="1.6" stroke-linejoin="round" /><path d="M513.0,634.5 L516.6,636.3 L518.4,647.2 L500.2,676.2 L494.8,694.4 L498.4,708.9 L485.7,716.1 L473.0,730.6 L471.2,727.0 L464.0,698.0 L467.6,685.3 Z" fill="#7b9bb0" stroke="none" stroke-width="1.6" stroke-linejoin="round" /><path d="M518.4,647.2 L522.0,658.0 L505.7,683.5 L503.9,707.0 L498.4,708.9 L494.8,694.4 L500.2,676.2 Z" fill="#c3d2dc" stroke="none" stroke-width="1.6" stroke-linejoin="round" /><path d="M509.0,642.0 C512.9,638.0 512.3,644.8 511.0,648.0 C509.7,651.2 498.0,669.3 496.0,674.0 C494.0,678.7 491.3,691.9 491.0,695.0 C490.7,698.1 493.7,703.3 493.0,705.0 C492.3,706.7 485.7,710.4 484.0,712.0 C482.3,713.6 477.4,722.2 476.0,721.0 C474.6,719.8 470.9,703.3 470.5,700.0 C470.1,696.7 468.6,693.8 472.5,688.0 C476.4,682.2 505.1,646.0 509.0,642.0 Z" fill="#b0c4d0" stroke="#2a3a46" stroke-width="0.8" stroke-linejoin="round" /><path d="M516.6,636.3 L522.0,620.0 L527.5,636.3 L527.5,654.4 L522.0,658.0 L518.4,647.2 Z" fill="#9ab3c3" stroke="none" stroke-width="1.6" stroke-linejoin="round" /><path d="M522.0,620.0 L532.9,610.9 L545.6,609.1 L550.0,614.0 L527.5,636.3 Z" fill="#c8d6df" stroke="none" stroke-width="1.6" stroke-linejoin="round" /><path d="M527.5,636.3 L550.0,614.0 L551.0,650.8 L543.8,654.4 L527.5,654.4 Z" fill="#6e92a7" stroke="none" stroke-width="1.6" stroke-linejoin="round" /><path d="M522.0,658.0 L527.5,654.4 L543.8,658.0 L552.9,669.0 L569.2,676.2 L587.6,690.3 L598.9,690.3 L609.7,690.3 L600.0,703.2 L588.7,706.5 L564.5,693.5 L540.3,680.6 L522.0,662.0 Z" fill="#c5d4de" stroke="none" stroke-width="1.6" stroke-linejoin="round" /><path d="M473.0,730.6 L485.7,716.1 L500.2,708.9 L514.8,708.9 L543.8,719.8 L552.8,726.8 L578.5,743.4 L584.3,755.0 L584.9,788.4 L582.4,794.8 L576.3,808.2 L559.3,850.6 L548.0,898.5 L542.4,938.0 L539.6,940.9 L534.0,966.3 L438.0,911.2 L440.8,912.7 L471.8,780.0 Z" fill="url(#ctr2)" stroke="none" stroke-width="1.6" stroke-linejoin="round" /><path d="M582.4,794.8 L593.9,801.2 L611.9,762.7 L628.0,785.0 L610.2,788.5 L587.6,822.3 L576.4,860.0 L562.3,902.3 L551.0,958.8 L555.3,981.4 L540.0,978.0 L541.2,944.7 L545.4,916.5 L558.1,860.0 L576.3,808.2 Z" fill="url(#hl22)" stroke="none" stroke-width="1.6" stroke-linejoin="round" /><path d="M610.2,788.5 L628.0,785.0 L648.3,790.0 L641.2,828.0 L625.0,880.0 L611.7,922.1 L606.1,937.6 L590.0,941.0 L583.5,944.7 L576.4,951.7 L570.8,967.3 L569.4,980.0 L555.3,981.4 L551.0,958.8 L562.3,902.3 L576.4,860.0 L587.6,822.3 Z" fill="url(#dk2)" stroke="none" stroke-width="1.6" stroke-linejoin="round" /><path d="M473.0,730.6 C475.1,728.2 481.2,719.7 485.7,716.1 C490.2,712.5 495.4,710.1 500.2,708.9 C505.0,707.7 507.5,707.1 514.8,708.9 C522.1,710.7 537.5,716.8 543.8,719.8 C550.1,722.8 547.0,722.9 552.8,726.8 C558.6,730.7 573.2,738.7 578.5,743.4 C583.8,748.1 583.2,747.5 584.3,755.0 C585.4,762.5 585.2,781.8 584.9,788.4 C584.6,795.0 582.8,793.7 582.4,794.8" fill="none" stroke="#111" stroke-width="2.2" stroke-linejoin="round" stroke-linecap="round" /><path d="M476.0,733.0 C478.0,730.8 483.7,723.3 488.0,720.0 C492.3,716.7 497.5,714.2 502.0,713.0 C506.5,711.8 508.2,711.3 515.0,713.0 C521.8,714.7 532.8,717.5 543.0,723.0 C553.2,728.5 569.8,740.5 576.0,746.0 C582.2,751.5 579.7,749.0 580.5,756.0 C581.3,763.0 580.9,782.7 581.0,788.0" fill="none" stroke="#2a3a46" stroke-width="0.8" stroke-linejoin="round" stroke-linecap="round" /><path d="M473.0,730.6 L476.8,745.0 L442.0,911.5 L434.0,909.0 L468.0,745.0 Z" fill="#7d9db1" stroke="none" stroke-width="1.6" stroke-linejoin="round" /><path d="M473.0,730.6 C473.6,733.0 479.0,728.4 476.8,745.0 C474.6,761.6 465.8,802.2 460.0,830.0 C454.2,857.8 445.0,897.9 442.0,911.5" fill="none" stroke="#111" stroke-width="1.4" stroke-linejoin="round" stroke-linecap="round" /><path d="M467.0,738.0 C464.5,751.7 457.5,791.5 452.0,820.0 C446.5,848.5 437.0,894.2 434.0,909.0" fill="none" stroke="#2a3a46" stroke-width="1.0" stroke-linejoin="round" stroke-linecap="round" /><path d="M440.8,912.7 L534.0,966.3" fill="none" stroke="#111" stroke-width="1.6" stroke-linejoin="round" stroke-linecap="round" /><path d="M582.4,794.8 C581.4,797.0 580.3,797.3 576.3,808.2 C572.2,819.1 563.2,842.0 558.1,860.0 C553.0,878.0 548.2,902.4 545.4,916.5 C542.6,930.6 542.4,936.0 541.2,944.7 C540.0,953.4 538.8,964.7 538.3,968.7" fill="none" stroke="#111" stroke-width="1.8" stroke-linejoin="round" stroke-linecap="round" /><path d="M611.9,762.7 C608.9,769.1 597.9,791.3 593.9,801.2 C589.9,811.1 590.5,812.5 587.6,822.3 C584.7,832.1 580.6,846.7 576.4,860.0 C572.2,873.3 566.5,885.8 562.3,902.3 C558.1,918.8 552.2,945.8 551.0,958.8 C549.8,971.8 554.6,976.5 555.3,980.0" fill="none" stroke="#2a3a46" stroke-width="1.0" stroke-linejoin="round" stroke-linecap="round" /><path d="M629.9,788.5 C621.0,812.5 584.3,906.5 576.3,932.4 C568.3,958.3 581.0,941.8 582.0,943.7" fill="none" stroke="#111" stroke-width="1.4" stroke-linejoin="round" stroke-linecap="round" /><path d="M513.0,634.5 C505.4,643.0 475.8,674.7 467.6,685.3 C459.4,695.9 463.4,691.0 464.0,698.0 C464.6,705.0 469.1,721.6 471.2,727.0 C473.3,732.4 475.8,730.0 476.7,730.6" fill="none" stroke="#2a3a46" stroke-width="0.9" stroke-linejoin="round" stroke-linecap="round" /><path d="M518.4,647.2 C515.4,652.0 504.1,668.3 500.2,676.2 C496.3,684.1 495.1,689.0 494.8,694.4 C494.5,699.8 497.8,706.5 498.4,708.9" fill="none" stroke="#2a3a46" stroke-width="0.9" stroke-linejoin="round" stroke-linecap="round" /><path d="M453.0,700.0 C449.2,706.7 436.8,725.8 430.0,740.0 C423.2,754.2 416.2,770.0 412.0,785.0 C407.8,800.0 405.3,815.8 405.0,830.0 C404.7,844.2 406.7,858.0 410.0,870.0 C413.3,882.0 422.5,896.7 425.0,902.0" fill="none" stroke="#2a3a46" stroke-width="0.8" stroke-linejoin="round" stroke-linecap="round" /><path d="M543.8,654.4 C543.8,654.4 543.8,658.0 543.8,658.0 C543.8,658.0 548.7,666.0 552.9,669.0 C557.1,672.0 563.4,672.7 569.2,676.2 C575.0,679.8 587.6,690.3 587.6,690.3" fill="none" stroke="#111" stroke-width="1.6" stroke-linejoin="round" stroke-linecap="round" /><ellipse cx="566" cy="676" rx="3" ry="2.2" fill="#9db6c5" stroke="#111" stroke-width="1.2"/><ellipse cx="577" cy="682" rx="3" ry="2.2" fill="#9db6c5" stroke="#111" stroke-width="1.2"/><ellipse cx="588" cy="689" rx="3" ry="2.2" fill="#9db6c5" stroke="#111" stroke-width="1.2"/><path d="M522.0,662.0 C525.0,665.1 533.2,675.4 540.3,680.6 C547.4,685.9 556.4,689.2 564.5,693.5 C572.6,697.8 582.8,704.9 588.7,706.5 C594.6,708.1 596.5,705.9 600.0,703.2 C603.5,700.5 608.1,692.4 609.7,690.3" fill="none" stroke="#111" stroke-width="2.2" stroke-linejoin="round" stroke-linecap="round" /><path d="M527.5,636.3 L550.0,614.0" fill="none" stroke="#2a3a46" stroke-width="0.8" stroke-linejoin="round" stroke-linecap="round" /><path d="M527.5,636.3 L527.5,654.4" fill="none" stroke="#2a3a46" stroke-width="0.8" stroke-linejoin="round" stroke-linecap="round" /><path d="M606.0,692.0 C607.0,698.3 611.0,718.2 612.0,730.0 C613.0,741.8 612.0,757.5 612.0,763.0" fill="none" stroke="#2a3a46" stroke-width="0.8" stroke-linejoin="round" stroke-linecap="round" /></g><path d="M507.5,624.5 C507.5,624.5 517.8,622.3 522.0,620.0 C526.2,617.7 529.0,612.7 532.9,610.9 C536.8,609.1 542.7,608.5 545.6,609.1 C548.5,609.7 550.1,614.5 550.1,614.5 C550.1,614.5 551.0,650.8 551.0,650.8 C551.0,650.8 543.8,654.4 543.8,654.4 C543.8,654.4 543.8,658.0 543.8,658.0 C543.8,658.0 548.7,666.0 552.9,669.0 C557.1,672.0 563.4,672.7 569.2,676.2 C575.0,679.8 587.6,690.3 587.6,690.3 C587.6,690.3 598.9,690.3 598.9,690.3 C598.9,690.3 601.5,679.3 604.2,676.7 C606.9,674.1 610.7,674.1 615.0,674.5 C619.3,674.9 626.7,676.7 629.9,679.3 C633.1,681.9 632.3,683.6 634.0,690.0 C635.7,696.4 640.1,717.8 640.1,717.8 C640.1,717.8 649.1,721.6 649.1,721.6 C649.1,721.6 651.3,734.1 651.7,741.0 C652.1,747.9 652.3,754.5 651.7,762.7 C651.1,770.9 650.0,779.1 648.3,790.0 C646.5,800.9 645.1,813.0 641.2,828.0 C637.3,843.0 629.9,864.3 625.0,880.0 C620.1,895.7 614.9,912.5 611.7,922.1 C608.6,931.7 606.1,937.6 606.1,937.6 C606.1,937.6 593.8,939.8 590.0,941.0 C586.2,942.2 585.8,942.9 583.5,944.7 C581.2,946.5 578.5,947.9 576.4,951.7 C574.3,955.5 572.0,962.6 570.8,967.3 C569.6,972.0 569.4,980.0 569.4,980.0 C569.4,980.0 555.3,981.4 555.3,981.4 C555.3,981.4 553.1,977.4 534.0,966.3 C514.9,955.1 459.6,925.0 440.5,914.5 C421.4,904.0 423.3,905.8 419.3,903.3 C415.3,900.8 418.8,904.6 416.3,899.4 C413.8,894.2 407.1,880.7 404.2,872.1 C401.3,863.5 399.8,856.0 398.7,848.0 C397.6,840.0 396.8,832.4 397.5,823.8 C398.2,815.2 400.1,805.7 402.7,796.6 C405.3,787.5 409.5,778.4 413.3,769.3 C417.1,760.2 420.9,750.0 425.4,742.0 C429.9,734.0 435.9,728.3 440.5,721.0 C445.1,713.7 450.6,704.0 453.0,698.0 C455.4,692.0 454.9,685.3 454.9,685.3 C454.9,685.3 507.5,624.5 507.5,624.5 Z" fill="none" stroke="#111" stroke-width="2.2" stroke-linejoin="round" /><g clip-path="url(#c3)"><path d="M754.5,377.1 L763.5,374.6 L773.6,376.1 L778.7,382.1 L795.0,390.2 L841.5,419.4 L850.6,421.3 L850.6,428.5 L854.2,455.7 L863.3,477.5 L869.7,490.2 L871.5,520.0 L869.0,533.3 L861.3,588.7 L843.5,655.2 L823.6,730.6 L819.1,736.2 L810.2,732.9 L796.9,726.2 L788.1,718.5 L770.3,716.2 L688.3,670.8 L683.8,666.3 L681.6,655.2 L668.3,650.8 L661.7,641.9 L661.7,624.2 L660.5,602.0 L663.9,584.3 L669.5,560.0 L676.8,534.8 L687.3,506.6 L698.0,485.0 L709.1,461.8 L723.2,437.6 L737.3,413.4 L751.5,383.1 Z M753.0,463.0 L757.5,469.8 L771.6,475.9 L780.7,479.9 L798.0,488.4 L816.1,495.6 L837.9,508.3 L845.2,504.7 L848.0,510.0 L848.0,522.2 L836.9,528.8 L823.6,535.5 L819.1,555.4 L821.3,573.2 L814.7,577.6 L808.0,610.9 L797.0,641.9 L794.7,681.9 L790.3,684.1 L774.8,675.2 L770.3,675.2 L721.5,650.8 L717.1,646.4 L712.7,637.5 L696.0,628.6 L698.2,620.0 L703.0,599.1 L704.2,595.5 L706.7,576.1 L710.3,572.4 L711.5,563.9 L713.9,556.7 L723.6,527.6 L728.5,519.7 L734.5,517.9 L737.0,503.3 L735.8,500.9 L737.0,492.4 L747.9,470.6 Z" fill="#a5bccb" fill-rule="evenodd"/><path d="M763.5,379.1 L778.7,386.0 L841.5,424.0 L846.0,440.0 L850.0,470.0 L845.2,504.7 L837.9,508.3 L816.1,495.6 L798.0,488.4 L780.7,479.9 L771.6,475.9 L757.5,469.8 L751.5,463.8 L743.4,485.0 L735.0,470.0 L747.4,413.4 Z" fill="#adc2ce" stroke="none" stroke-width="1.6" stroke-linejoin="round" /><path d="M763.5,381.0 L776.0,388.0 L790.0,396.0 L782.0,412.0 L770.0,421.0 L758.0,424.0 L750.0,418.0 L755.0,400.0 Z" fill="#c7d5de" stroke="none" stroke-width="1.6" stroke-linejoin="round" /><path d="M758.0,424.0 C760.0,423.5 766.0,423.0 770.0,421.0 C774.0,419.0 778.7,416.2 782.0,412.0 C785.3,407.8 788.7,398.7 790.0,396.0" fill="none" stroke="#1c2c37" stroke-width="1.6" stroke-linejoin="round" stroke-linecap="round" /><path d="M741.7,421.0 C744.8,419.2 753.6,413.3 760.0,410.0 C766.4,406.7 773.1,403.0 779.8,401.3 C786.5,399.6 791.6,397.7 800.0,400.0 C808.4,402.3 825.0,412.5 830.0,415.0" fill="none" stroke="#1c2c37" stroke-width="1.0" stroke-linejoin="round" stroke-linecap="round" /><path d="M752.0,435.0 C757.5,435.8 774.5,437.2 785.0,440.0 C795.5,442.8 805.8,447.0 815.0,452.0 C824.2,457.0 835.8,467.0 840.0,470.0" fill="none" stroke="#1c2c37" stroke-width="1.0" stroke-linejoin="round" stroke-linecap="round" /><path d="M781.7,426.7 C781.7,424.5 787.0,422.4 790.0,421.5 C793.0,420.6 798.5,419.4 800.0,421.5 C801.5,423.6 800.7,431.8 799.0,434.0 C797.3,436.2 792.9,435.7 790.0,434.5 C787.1,433.3 781.7,428.9 781.7,426.7 Z" fill="#fcfefc" stroke="#15202a" stroke-width="1.0" stroke-linejoin="round" /><path d="M825.2,437.6 C826.3,435.9 830.2,439.6 832.0,442.0 C833.8,444.4 836.3,449.5 836.1,452.1 C835.9,454.7 832.4,457.5 830.6,457.5 C828.8,457.5 826.1,455.4 825.2,452.1 C824.3,448.8 824.1,439.3 825.2,437.6 Z" fill="#fcfefc" stroke="#15202a" stroke-width="1.0" stroke-linejoin="round" /><path d="M754.5,377.1 L763.5,374.6 L763.5,379.1 L747.4,413.4 L735.3,427.5 L710.0,482.0 L690.0,520.0 L679.0,553.0 L673.0,600.0 L672.0,640.0 L680.0,652.0 L668.3,650.8 L661.7,641.9 L660.5,602.0 L663.9,584.3 L669.5,560.0 L676.8,534.8 L687.3,506.6 L698.0,485.0 L709.1,461.8 L723.2,437.6 L737.3,413.4 L751.5,383.1 Z" fill="#5d8399" stroke="none" stroke-width="1.6" stroke-linejoin="round" /><path d="M850.6,421.3 L850.6,428.5 L854.2,455.7 L863.3,477.5 L869.7,490.2 L871.5,520.0 L869.0,533.3 L861.3,588.7 L843.5,655.2 L823.6,730.6 L819.1,736.2 L814.0,728.0 L832.0,655.0 L850.0,588.0 L859.0,530.0 L858.0,492.0 L848.0,470.0 L844.0,440.0 L845.0,425.0 Z" fill="#678ca2" stroke="none" stroke-width="1.6" stroke-linejoin="round" /><path d="M763.5,374.6 L773.6,376.1 L778.7,382.1 L795.0,390.2 L841.5,419.4 L850.6,421.3 L848.0,428.0 L840.0,425.0 L795.0,397.0 L776.0,388.0 L766.0,381.0 Z" fill="#22323d" stroke="none" stroke-width="1.6" stroke-linejoin="round" /><path d="M683.8,666.3 L688.3,670.8 L770.3,716.2 L788.1,718.5 L796.9,726.2 L810.2,732.9 L812.0,722.0 L797.0,712.0 L780.0,706.0 L700.0,662.0 L686.0,656.0 Z" fill="#6e90a4" stroke="none" stroke-width="1.6" stroke-linejoin="round" /><line x1="743.8" y1="417.6" x2="755.7" y2="444.4" stroke="#16222b" stroke-width="2.8"/><line x1="736.6" y1="426.0" x2="753.1" y2="453.3" stroke="#16222b" stroke-width="1.8"/><circle cx="744.0" cy="440.3" r="3.5" fill="#d6e1e8" opacity="0.9"/><line x1="731.5" y1="435.8" x2="750.4" y2="462.1" stroke="#16222b" stroke-width="2.8"/><line x1="726.8" y1="445.8" x2="747.7" y2="470.9" stroke="#16222b" stroke-width="1.8"/><circle cx="736.2" cy="459.1" r="3.5" fill="#d6e1e8" opacity="0.9"/><line x1="722.1" y1="455.9" x2="743.6" y2="479.2" stroke="#16222b" stroke-width="2.8"/><line x1="717.5" y1="465.9" x2="739.5" y2="487.4" stroke="#16222b" stroke-width="1.8"/><circle cx="727.4" cy="477.6" r="3.5" fill="#d6e1e8" opacity="0.9"/><line x1="712.8" y1="476.0" x2="736.6" y2="496.0" stroke="#16222b" stroke-width="2.8"/><line x1="707.9" y1="485.9" x2="735.7" y2="505.2" stroke="#16222b" stroke-width="1.8"/><circle cx="720.4" cy="496.6" r="3.5" fill="#d6e1e8" opacity="0.9"/><line x1="702.8" y1="495.7" x2="734.8" y2="514.4" stroke="#16222b" stroke-width="2.8"/><line x1="697.6" y1="505.5" x2="730.3" y2="521.7" stroke="#16222b" stroke-width="1.8"/><circle cx="712.3" cy="514.8" r="3.5" fill="#d6e1e8" opacity="0.9"/><line x1="692.4" y1="515.3" x2="723.5" y2="527.9" stroke="#16222b" stroke-width="2.8"/><line x1="688.2" y1="525.5" x2="720.6" y2="536.6" stroke="#16222b" stroke-width="1.8"/><circle cx="702.8" cy="532.5" r="3.5" fill="#d6e1e8" opacity="0.9"/><line x1="684.7" y1="536.0" x2="717.7" y2="545.4" stroke="#16222b" stroke-width="2.8"/><line x1="681.1" y1="546.6" x2="714.8" y2="554.1" stroke="#16222b" stroke-width="1.8"/><circle cx="696.3" cy="552.0" r="3.5" fill="#d6e1e8" opacity="0.9"/><line x1="678.5" y1="557.3" x2="711.6" y2="562.8" stroke="#16222b" stroke-width="2.8"/><line x1="677.1" y1="568.2" x2="708.4" y2="571.5" stroke="#16222b" stroke-width="1.8"/><circle cx="691.2" cy="571.7" r="3.5" fill="#d6e1e8" opacity="0.9"/><line x1="675.7" y1="579.2" x2="706.0" y2="580.3" stroke="#16222b" stroke-width="2.8"/><line x1="674.2" y1="590.2" x2="704.6" y2="589.4" stroke="#16222b" stroke-width="1.8"/><circle cx="687.9" cy="591.9" r="3.5" fill="#d6e1e8" opacity="0.9"/><line x1="673.0" y1="601.2" x2="703.1" y2="598.5" stroke="#16222b" stroke-width="2.8"/><line x1="672.7" y1="612.3" x2="701.1" y2="607.5" stroke="#16222b" stroke-width="1.8"/><circle cx="685.5" cy="612.2" r="3.5" fill="#d6e1e8" opacity="0.9"/><line x1="672.4" y1="623.4" x2="699.1" y2="616.5" stroke="#16222b" stroke-width="2.8"/><line x1="672.1" y1="634.5" x2="697.0" y2="625.5" stroke="#16222b" stroke-width="1.8"/><circle cx="683.3" cy="632.4" r="3.5" fill="#d6e1e8" opacity="0.9"/><path d="M752.0,430.0 C749.2,436.7 741.7,455.0 735.0,470.0 C728.3,485.0 717.8,503.3 712.0,520.0 C706.2,536.7 703.7,551.7 700.0,570.0 C696.3,588.3 691.7,620.0 690.0,630.0" fill="none" stroke="#16222b" stroke-width="1.8" stroke-linejoin="round" stroke-linecap="round" /><path d="M742.0,425.0 C739.3,431.7 732.5,449.2 726.0,465.0 C719.5,480.8 709.0,502.5 703.0,520.0 C697.0,537.5 693.3,551.7 690.0,570.0 C686.7,588.3 684.2,620.0 683.0,630.0" fill="none" stroke="#16222b" stroke-width="1.0" stroke-linejoin="round" stroke-linecap="round" /><path d="M747.4,413.4 C745.4,415.8 741.5,416.1 735.3,427.5 C729.1,438.9 717.5,466.6 710.0,482.0 C702.5,497.4 695.2,508.2 690.0,520.0 C684.8,531.8 681.8,539.7 679.0,553.0 C676.2,566.3 674.2,585.5 673.0,600.0 C671.8,614.5 672.2,633.3 672.0,640.0" fill="none" stroke="#16222b" stroke-width="1.6" stroke-linejoin="round" stroke-linecap="round" /><line x1="858.7" y1="517.5" x2="842.9" y2="514.9" stroke="#16222b" stroke-width="2.8"/><line x1="859.0" y1="528.5" x2="838.6" y2="524.8" stroke="#16222b" stroke-width="1.8"/><circle cx="848.8" cy="528.7" r="3.5" fill="#d6e1e8" opacity="0.9"/><line x1="857.5" y1="539.5" x2="831.1" y2="531.7" stroke="#16222b" stroke-width="2.8"/><line x1="855.8" y1="550.4" x2="823.1" y2="537.8" stroke="#16222b" stroke-width="1.8"/><circle cx="839.5" cy="546.1" r="3.5" fill="#d6e1e8" opacity="0.9"/><line x1="854.1" y1="561.4" x2="820.7" y2="548.3" stroke="#16222b" stroke-width="2.8"/><line x1="852.4" y1="572.3" x2="818.4" y2="558.8" stroke="#16222b" stroke-width="1.8"/><circle cx="835.4" cy="567.6" r="3.5" fill="#d6e1e8" opacity="0.9"/><line x1="850.7" y1="583.2" x2="816.3" y2="569.4" stroke="#16222b" stroke-width="2.8"/><line x1="848.4" y1="594.0" x2="814.2" y2="580.0" stroke="#16222b" stroke-width="1.8"/><circle cx="831.3" cy="589.0" r="3.5" fill="#d6e1e8" opacity="0.9"/><line x1="845.5" y1="604.7" x2="812.1" y2="590.5" stroke="#16222b" stroke-width="2.8"/><line x1="842.6" y1="615.4" x2="810.0" y2="601.1" stroke="#16222b" stroke-width="1.8"/><circle cx="826.3" cy="610.2" r="3.5" fill="#d6e1e8" opacity="0.9"/><line x1="839.8" y1="626.1" x2="807.7" y2="611.6" stroke="#16222b" stroke-width="2.8"/><line x1="836.9" y1="636.8" x2="804.1" y2="621.8" stroke="#16222b" stroke-width="1.8"/><circle cx="820.5" cy="631.3" r="3.5" fill="#d6e1e8" opacity="0.9"/><line x1="834.0" y1="647.5" x2="800.5" y2="631.9" stroke="#16222b" stroke-width="2.8"/><line x1="831.2" y1="658.2" x2="797.0" y2="642.1" stroke="#16222b" stroke-width="1.8"/><circle cx="814.1" cy="652.1" r="3.5" fill="#d6e1e8" opacity="0.9"/><line x1="828.6" y1="668.9" x2="796.4" y2="652.8" stroke="#16222b" stroke-width="2.8"/><line x1="825.9" y1="679.7" x2="795.8" y2="663.6" stroke="#16222b" stroke-width="1.8"/><circle cx="810.8" cy="673.6" r="3.5" fill="#d6e1e8" opacity="0.9"/><line x1="823.3" y1="690.4" x2="795.1" y2="674.3" stroke="#16222b" stroke-width="2.8"/><line x1="820.6" y1="701.1" x2="794.8" y2="685.1" stroke="#16222b" stroke-width="1.8"/><circle cx="807.7" cy="695.1" r="3.5" fill="#d6e1e8" opacity="0.9"/><line x1="818.0" y1="711.9" x2="795.3" y2="695.9" stroke="#16222b" stroke-width="2.8"/><line x1="815.3" y1="722.6" x2="795.8" y2="706.6" stroke="#16222b" stroke-width="1.8"/><circle cx="805.5" cy="716.6" r="3.5" fill="#d6e1e8" opacity="0.9"/><path d="M850.0,500.0 C849.2,506.7 847.5,523.3 845.0,540.0 C842.5,556.7 839.2,580.0 835.0,600.0 C830.8,620.0 824.5,640.8 820.0,660.0 C815.5,679.2 810.0,705.8 808.0,715.0" fill="none" stroke="#16222b" stroke-width="1.8" stroke-linejoin="round" stroke-linecap="round" /><path d="M842.0,520.0 C841.0,526.7 838.8,545.0 836.0,560.0 C833.2,575.0 829.0,593.3 825.0,610.0 C821.0,626.7 815.8,643.0 812.0,660.0 C808.2,677.0 803.7,703.3 802.0,712.0" fill="none" stroke="#16222b" stroke-width="1.0" stroke-linejoin="round" stroke-linecap="round" /><path d="M845.0,440.0 C845.8,445.0 847.8,461.3 850.0,470.0 C852.2,478.7 856.5,482.0 858.0,492.0 C859.5,502.0 860.3,514.0 859.0,530.0 C857.7,546.0 854.5,567.2 850.0,588.0 C845.5,608.8 838.0,631.7 832.0,655.0 C826.0,678.3 817.0,715.8 814.0,728.0" fill="none" stroke="#16222b" stroke-width="1.6" stroke-linejoin="round" stroke-linecap="round" /><path d="M753.0,463.0 C753.8,464.1 754.4,467.7 757.5,469.8 C760.6,471.9 767.7,474.2 771.6,475.9 C775.5,477.6 776.3,477.8 780.7,479.9 C785.1,482.0 792.1,485.8 798.0,488.4 C803.9,491.0 809.5,492.3 816.1,495.6 C822.8,498.9 833.0,506.8 837.9,508.3 C842.8,509.8 843.5,504.4 845.2,504.7 C846.9,505.0 847.5,507.1 848.0,510.0 C848.5,512.9 849.9,519.1 848.0,522.2 C846.1,525.3 841.0,526.6 836.9,528.8 C832.8,531.0 826.6,531.1 823.6,535.5 C820.6,539.9 819.5,549.1 819.1,555.4 C818.7,561.7 822.0,569.5 821.3,573.2 C820.6,576.9 816.9,571.3 814.7,577.6 C812.5,583.9 811.0,600.2 808.0,610.9 C805.0,621.6 799.2,630.1 797.0,641.9 C794.8,653.7 795.8,674.9 794.7,681.9 C793.6,688.9 793.6,685.2 790.3,684.1 C787.0,683.0 778.1,676.7 774.8,675.2 C771.5,673.7 779.2,679.3 770.3,675.2 C761.4,671.1 730.4,655.6 721.5,650.8 C712.6,646.0 718.6,648.6 717.1,646.4 C715.6,644.2 716.2,640.5 712.7,637.5 C709.2,634.5 698.4,631.5 696.0,628.6 C693.6,625.7 697.0,624.9 698.2,620.0 C699.4,615.1 702.0,603.2 703.0,599.1 C704.0,595.0 703.6,599.3 704.2,595.5 C704.8,591.7 705.7,580.0 706.7,576.1 C707.7,572.2 709.5,574.4 710.3,572.4 C711.1,570.4 710.9,566.5 711.5,563.9 C712.1,561.3 711.9,562.8 713.9,556.7 C715.9,550.7 721.2,533.8 723.6,527.6 C726.0,521.4 726.7,521.3 728.5,519.7 C730.3,518.1 733.1,520.6 734.5,517.9 C735.9,515.2 736.8,506.1 737.0,503.3 C737.2,500.5 735.8,502.7 735.8,500.9 C735.8,499.1 735.0,497.4 737.0,492.4 C739.0,487.3 746.1,474.2 747.9,470.6" fill="none" stroke="#5f8399" stroke-width="7" stroke-linejoin="round" stroke-linecap="round" /><line x1="703.7" y1="641.9" x2="694.5" y2="666.6" stroke="#1c2c37" stroke-width="1.4"/><line x1="711.2" y1="645.6" x2="703.5" y2="671.7" stroke="#1c2c37" stroke-width="1.4"/><line x1="718.7" y1="649.4" x2="712.5" y2="676.9" stroke="#1c2c37" stroke-width="1.4"/><line x1="726.2" y1="653.2" x2="721.5" y2="682.1" stroke="#1c2c37" stroke-width="1.4"/><line x1="733.7" y1="656.9" x2="730.5" y2="687.2" stroke="#1c2c37" stroke-width="1.4"/><line x1="741.2" y1="660.6" x2="739.5" y2="692.4" stroke="#1c2c37" stroke-width="1.4"/><line x1="748.7" y1="664.4" x2="748.6" y2="697.5" stroke="#1c2c37" stroke-width="1.4"/><line x1="756.2" y1="668.1" x2="757.6" y2="702.7" stroke="#1c2c37" stroke-width="1.4"/><line x1="763.7" y1="671.9" x2="766.6" y2="707.9" stroke="#1c2c37" stroke-width="1.4"/><line x1="771.2" y1="675.6" x2="775.9" y2="712.3" stroke="#1c2c37" stroke-width="1.4"/><line x1="778.8" y1="679.0" x2="785.6" y2="716.2" stroke="#1c2c37" stroke-width="1.4"/><line x1="786.5" y1="682.4" x2="795.2" y2="720.1" stroke="#1c2c37" stroke-width="1.4"/><path d="M695.0,650.0 C707.5,656.7 753.3,681.7 770.0,690.0 C786.7,698.3 790.8,698.3 795.0,700.0" fill="none" stroke="#1c2c37" stroke-width="1.2" stroke-linejoin="round" stroke-linecap="round" /><path d="M697.0,658.0 C709.2,664.7 753.3,689.3 770.0,698.0 C786.7,706.7 792.5,708.0 797.0,710.0" fill="none" stroke="#1c2c37" stroke-width="0.8" stroke-linejoin="round" stroke-linecap="round" /><path d="M826.5,531.8 L834.7,529.1 L848.0,526.0 L852.0,545.0 L850.0,572.0 L835.0,575.0 L821.3,573.2 L819.1,555.4 L822.5,545.3 Z" fill="#bfcfd9" stroke="#1c2c37" stroke-width="1.0" stroke-linejoin="round" /><path d="M820.0,580.0 L830.0,586.0 L826.0,604.0 L816.0,600.0 Z" fill="#1c2c37" stroke="none" stroke-width="1.6" stroke-linejoin="round" /><path d="M846.8,496.0 L858.0,494.0 L860.4,508.0 L850.0,512.8 L845.0,510.0 Z" fill="#2a3f4c" stroke="#111" stroke-width="1" stroke-linejoin="round" /><path d="M849.0,498.0 L856.0,497.0 L857.0,503.0 L850.0,504.0 Z" fill="#a9bfcc" stroke="none" stroke-width="1.6" stroke-linejoin="round" /><path d="M757.5,469.8 C759.6,464.8 765.4,449.6 770.0,440.0 C774.6,430.4 780.0,418.7 785.0,412.0 C790.0,405.3 797.5,402.0 800.0,400.0" fill="none" stroke="#1c2c37" stroke-width="1.0" stroke-linejoin="round" stroke-linecap="round" /><path d="M780.7,479.9 C783.1,474.9 790.1,458.3 795.0,450.0 C799.9,441.7 805.0,434.2 810.0,430.0 C815.0,425.8 822.5,425.8 825.0,425.0" fill="none" stroke="#1c2c37" stroke-width="1.0" stroke-linejoin="round" stroke-linecap="round" /><path d="M796.0,452.0 L806.0,456.0 L803.0,474.0 L793.0,470.0 Z" fill="#fcfefc" stroke="#1c2c37" stroke-width="1.2" stroke-linejoin="round" /><path d="M812.0,460.0 L818.0,462.0 L816.0,480.0 L810.0,478.0 Z" fill="#d6e1e8" stroke="#1c2c37" stroke-width="1.2" stroke-linejoin="round" /><path d="M775.0,452.0 L780.0,466.0" fill="none" stroke="#1c2c37" stroke-width="2.5" stroke-linejoin="round" stroke-linecap="round" /><path d="M828.0,468.0 L826.0,488.0" fill="none" stroke="#1c2c37" stroke-width="2.5" stroke-linejoin="round" stroke-linecap="round" /><circle cx="771" cy="436" r="2.5" fill="#1c2c37"/><circle cx="835" cy="466" r="2.5" fill="#1c2c37"/></g><path d="M754.5,377.1 L763.5,374.6 L773.6,376.1 L778.7,382.1 L795.0,390.2 L841.5,419.4 L850.6,421.3 L850.6,428.5 L854.2,455.7 L863.3,477.5 L869.7,490.2 L871.5,520.0 L869.0,533.3 L861.3,588.7 L843.5,655.2 L823.6,730.6 L819.1,736.2 L810.2,732.9 L796.9,726.2 L788.1,718.5 L770.3,716.2 L688.3,670.8 L683.8,666.3 L681.6,655.2 L668.3,650.8 L661.7,641.9 L661.7,624.2 L660.5,602.0 L663.9,584.3 L669.5,560.0 L676.8,534.8 L687.3,506.6 L698.0,485.0 L709.1,461.8 L723.2,437.6 L737.3,413.4 L751.5,383.1 Z M753.0,463.0 L757.5,469.8 L771.6,475.9 L780.7,479.9 L798.0,488.4 L816.1,495.6 L837.9,508.3 L845.2,504.7 L848.0,510.0 L848.0,522.2 L836.9,528.8 L823.6,535.5 L819.1,555.4 L821.3,573.2 L814.7,577.6 L808.0,610.9 L797.0,641.9 L794.7,681.9 L790.3,684.1 L774.8,675.2 L770.3,675.2 L721.5,650.8 L717.1,646.4 L712.7,637.5 L696.0,628.6 L698.2,620.0 L703.0,599.1 L704.2,595.5 L706.7,576.1 L710.3,572.4 L711.5,563.9 L713.9,556.7 L723.6,527.6 L728.5,519.7 L734.5,517.9 L737.0,503.3 L735.8,500.9 L737.0,492.4 L747.9,470.6 Z" fill="none" stroke="#111" stroke-width="2"/><g clip-path="url(#cbp)"><path d="M728.7,925.4 L750.9,893.3 L773.1,871.1 L781.9,870.0 L813.0,884.4 L826.3,902.1 L835.2,931.0 L836.3,979.8 L833.0,988.6 L824.1,993.1 L819.6,1015.2 L814.8,1040.0 L811.0,1060.0 L786.8,1181.0 L782.0,1187.5 L666.0,1124.5 L667.5,1118.0 L676.4,1060.0 L684.2,1040.0 L693.2,1015.2 L706.5,975.3 L724.3,939.8 Z" fill="url(#gbp)" stroke="none" stroke-width="1.6" stroke-linejoin="round" /><path d="M727.0,927.0 C729.7,927.1 740.5,930.6 744.0,935.0 C747.5,939.4 752.1,952.3 753.0,960.0 C753.9,967.7 752.7,982.7 751.0,993.0 C749.3,1003.3 742.9,1025.4 740.0,1037.0 C737.1,1048.6 731.9,1070.0 729.0,1080.0 C726.1,1090.0 720.4,1108.0 718.0,1112.0 C715.6,1116.0 710.5,1114.3 711.0,1110.0 C711.5,1105.7 719.1,1089.7 722.0,1080.0 C724.9,1070.3 730.1,1048.6 733.0,1037.0 C735.9,1025.4 742.3,1003.0 744.0,993.0 C745.7,983.0 746.8,968.8 746.0,962.0 C745.2,955.2 740.9,945.7 738.0,942.0 C735.1,938.3 725.5,936.0 724.0,934.0 C722.5,932.0 724.3,926.9 727.0,927.0 Z" fill="#86a5b8" stroke="none" stroke-width="1.6" stroke-linejoin="round" /><path d="M727.0,927.0 C729.8,928.3 739.7,929.5 744.0,935.0 C748.3,940.5 751.8,950.3 753.0,960.0 C754.2,969.7 753.2,980.2 751.0,993.0 C748.8,1005.8 743.7,1022.5 740.0,1037.0 C736.3,1051.5 732.7,1067.5 729.0,1080.0 C725.3,1092.5 719.8,1106.7 718.0,1112.0" fill="none" stroke="#2a3a46" stroke-width="0.9" stroke-linejoin="round" stroke-linecap="round" /><path d="M724.0,934.0 C726.3,935.3 734.3,937.3 738.0,942.0 C741.7,946.7 745.0,953.5 746.0,962.0 C747.0,970.5 746.2,980.5 744.0,993.0 C741.8,1005.5 736.7,1022.5 733.0,1037.0 C729.3,1051.5 725.7,1067.8 722.0,1080.0 C718.3,1092.2 712.8,1105.0 711.0,1110.0" fill="none" stroke="#2a3a46" stroke-width="0.9" stroke-linejoin="round" stroke-linecap="round" /><path d="M773.1,873.0 C772.7,880.1 772.3,901.7 770.8,915.4 C769.3,929.1 767.3,941.3 764.2,955.4 C761.1,969.5 754.0,992.6 752.0,1000.0" fill="none" stroke="#2a3a46" stroke-width="0.9" stroke-linejoin="round" stroke-linecap="round" /><path d="M824.1,902.1 C822.2,909.9 817.8,929.9 813.0,948.7 C808.2,967.6 800.3,1000.0 795.2,1015.2 C790.1,1030.4 789.0,1023.8 782.6,1040.0 C776.2,1056.2 762.7,1092.2 756.8,1112.6 C750.9,1133.0 748.7,1154.3 747.1,1162.6" fill="none" stroke="#2a3a46" stroke-width="0.9" stroke-linejoin="round" stroke-linecap="round" /><path d="M832.0,985.0 C829.2,984.9 819.1,982.9 815.2,984.2 C811.3,985.6 811.9,984.2 808.6,993.1 C805.3,1002.0 799.7,1022.9 795.2,1037.4 C790.8,1051.9 787.8,1062.9 781.9,1080.0 C776.0,1097.1 763.6,1130.0 760.0,1140.0" fill="none" stroke="#2a3a46" stroke-width="0.9" stroke-linejoin="round" stroke-linecap="round" /><path d="M728.7,925.4 C732.4,920.3 743.5,903.6 750.9,895.0 C758.3,886.4 767.9,877.7 773.1,874.0 C778.3,870.3 775.6,870.9 781.9,873.0 C788.2,875.1 804.1,881.4 811.0,886.4 C817.9,891.4 819.8,895.7 823.3,903.1 C826.8,910.5 830.5,918.2 832.2,931.0 C833.9,943.8 833.1,971.7 833.3,979.8" fill="none" stroke="#2a3a46" stroke-width="0.8" stroke-linejoin="round" stroke-linecap="round" /><path d="M711.0,1110.0 L718.0,1112.0 L711.0,1137.0 L706.8,1136.8 Z" fill="#7d9db1" stroke="none" stroke-width="1.6" stroke-linejoin="round" /><path d="M782.6,1040.0 L787.0,1040.0 L761.0,1113.0 L751.0,1163.0 L747.1,1162.6 L756.8,1112.6 Z" fill="#7d9db1" stroke="none" stroke-width="1.6" stroke-linejoin="round" /><path d="M718.0,1112.0 L711.0,1137.0" fill="none" stroke="#1c2c37" stroke-width="1.0" stroke-linejoin="round" stroke-linecap="round" /><path d="M787.0,1040.0 C782.7,1052.2 767.0,1092.5 761.0,1113.0 C755.0,1133.5 752.7,1154.7 751.0,1163.0" fill="none" stroke="#1c2c37" stroke-width="1.0" stroke-linejoin="round" stroke-linecap="round" /><path d="M697.0,1086.0 L770.0,1124.0 L772.9,1131.0 L771.0,1139.0 L699.0,1102.0 L694.0,1094.0 Z" fill="#8fabbc" stroke="#1c2c37" stroke-width="1.6" stroke-linejoin="round" /><line x1="697.0" y1="1088.0" x2="699.0" y2="1101.0" stroke="#1c2c37" stroke-width="1.6"/><line x1="707.4" y1="1093.3" x2="709.4" y2="1106.3" stroke="#1c2c37" stroke-width="1.6"/><line x1="717.9" y1="1098.6" x2="719.9" y2="1111.6" stroke="#1c2c37" stroke-width="1.6"/><line x1="728.3" y1="1103.9" x2="730.3" y2="1116.9" stroke="#1c2c37" stroke-width="1.6"/><line x1="738.7" y1="1109.1" x2="740.7" y2="1122.1" stroke="#1c2c37" stroke-width="1.6"/><line x1="749.1" y1="1114.4" x2="751.1" y2="1127.4" stroke="#1c2c37" stroke-width="1.6"/><line x1="759.6" y1="1119.7" x2="761.6" y2="1132.7" stroke="#1c2c37" stroke-width="1.6"/><line x1="770.0" y1="1125.0" x2="772.0" y2="1138.0" stroke="#1c2c37" stroke-width="1.6"/><path d="M696.0,1094.0 L771.0,1132.0" fill="none" stroke="#1c2c37" stroke-width="1.2" stroke-linejoin="round" stroke-linecap="round" /><path d="M664.8,1123.9 L779.4,1187.6 L784.2,1185.2 L786.0,1178.0 L668.0,1114.0 Z" fill="#94afc0" stroke="none" stroke-width="1.6" stroke-linejoin="round" /><circle cx="694.7" cy="1056.1" r="2.3" fill="#16222b"/><circle cx="687.4" cy="1082.7" r="2.3" fill="#16222b"/><circle cx="680.2" cy="1109.4" r="2.3" fill="#16222b"/><circle cx="799.5" cy="1073.9" r="2.3" fill="#16222b"/><circle cx="789" cy="1111" r="2.3" fill="#16222b"/><circle cx="781.8" cy="1136.8" r="2.3" fill="#16222b"/><circle cx="774.5" cy="1163.4" r="2.3" fill="#16222b"/><circle cx="772.9" cy="1173.9" r="2.3" fill="#16222b"/><circle cx="705" cy="1019" r="2.3" fill="#16222b"/><circle cx="799" cy="1074" r="2.3" fill="#16222b"/><circle cx="676" cy="1117" r="2.3" fill="#16222b"/><circle cx="692" cy="1125" r="2.3" fill="#16222b"/><circle cx="700" cy="1130" r="2.3" fill="#16222b"/><circle cx="716" cy="1140" r="2.3" fill="#16222b"/><circle cx="735" cy="1150" r="2.3" fill="#16222b"/><circle cx="752" cy="1160" r="2.3" fill="#16222b"/><circle cx="765" cy="1168" r="2.3" fill="#16222b"/><circle cx="708" cy="1135" r="2.3" fill="#16222b"/><path d="M757,900 l5,-2 l1,9 l-5,3 z" fill="#6f93a8" stroke="#16222b" stroke-width="1.3"/><path d="M794,897 l5,-2 l1,9 l-5,3 z" fill="#6f93a8" stroke="#16222b" stroke-width="1.3"/><path d="M812,935 l5,-2 l1,9 l-5,3 z" fill="#6f93a8" stroke="#16222b" stroke-width="1.3"/><path d="M710,975 l5,-2 l1,9 l-5,3 z" fill="#6f93a8" stroke="#16222b" stroke-width="1.3"/><path d="M805,1030 l5,-2 l1,9 l-5,3 z" fill="#6f93a8" stroke="#16222b" stroke-width="1.3"/><path d="M683,1030 l5,-2 l1,9 l-5,3 z" fill="#6f93a8" stroke="#16222b" stroke-width="1.3"/><path d="M677,1060 l5,-2 l1,9 l-5,3 z" fill="#6f93a8" stroke="#16222b" stroke-width="1.3"/><path d="M794,1090 l5,-2 l1,9 l-5,3 z" fill="#6f93a8" stroke="#16222b" stroke-width="1.3"/><path d="M786,1122 l5,-2 l1,9 l-5,3 z" fill="#6f93a8" stroke="#16222b" stroke-width="1.3"/><path d="M789,929 l10,-3 l2,4 l-10,3 z M788,934 l10,-3" fill="none" stroke="#16222b" stroke-width="1.6"/></g><path d="M728.7,925.4 C731.4,920.8 746.5,898.7 750.9,893.3 C755.3,887.9 770.0,873.4 773.1,871.1 C776.2,868.8 777.9,868.7 781.9,870.0 C785.9,871.3 808.6,881.2 813.0,884.4 C817.4,887.6 824.1,897.4 826.3,902.1 C828.5,906.8 834.2,923.2 835.2,931.0 C836.2,938.8 836.5,974.0 836.3,979.8 C836.1,985.6 833.0,988.6 833.0,988.6 C833.0,988.6 824.1,993.1 824.1,993.1 C824.1,993.1 820.5,1010.5 819.6,1015.2 C818.7,1019.9 815.7,1035.5 814.8,1040.0 C813.9,1044.5 813.8,1045.9 811.0,1060.0 C808.2,1074.1 786.8,1181.0 786.8,1181.0 C786.8,1181.0 782.0,1187.5 782.0,1187.5 C782.0,1187.5 666.0,1124.5 666.0,1124.5 C666.0,1124.5 666.5,1124.5 667.5,1118.0 C668.5,1111.5 674.7,1067.8 676.4,1060.0 C678.1,1052.2 682.5,1044.5 684.2,1040.0 C685.9,1035.5 691.0,1021.7 693.2,1015.2 C695.4,1008.7 703.4,982.8 706.5,975.3 C709.6,967.8 722.1,944.8 724.3,939.8 C726.5,934.8 726.0,930.0 728.7,925.4 Z" fill="none" stroke="#111" stroke-width="2.2" stroke-linejoin="round" /><path d="M573.2,1115.9 L577.7,1115.0 L596.8,1127.7 L599.5,1135.0 L604.0,1135.8 L605.8,1127.7 L609.5,1126.8 L614.9,1131.3 L615.8,1140.4 L623.1,1144.9 L624.9,1138.6 L629.4,1137.7 L652.1,1152.2 L653.9,1163.1 L661.2,1166.7 L663.0,1160.3 L666.6,1159.4 L688.4,1173.0 L690.2,1184.8 L699.3,1188.5 L701.1,1183.0 L705.6,1182.1 L710.2,1185.7 L711.1,1197.5 L715.6,1199.4 L717.4,1197.5 L737.4,1209.3 L739.1,1212.0 L736.1,1233.0 L708.9,1242.1 L702.8,1269.3 L693.8,1272.4 L627.2,1227.0 L584.9,1205.8 L583.4,1190.7 L583.1,1168.5 L568.6,1139.5 L569.8,1125.0 Z" fill="#a7bdca" stroke="#111" stroke-width="1.8" stroke-linejoin="round" /><circle cx="610" cy="1132" r="1.8" fill="#16222b"/><circle cx="629" cy="1143" r="1.8" fill="#16222b"/><circle cx="647" cy="1154" r="1.8" fill="#16222b"/><circle cx="668" cy="1166" r="1.8" fill="#16222b"/><circle cx="686" cy="1176" r="1.8" fill="#16222b"/><circle cx="705" cy="1189" r="1.8" fill="#16222b"/><path d="M589.4,1208.9 L592.5,1272.4" fill="none" stroke="#111" stroke-width="6" stroke-linejoin="round" stroke-linecap="round" /><path d="M589.4,1208.9 L592.5,1272.4" fill="none" stroke="#9fb6c4" stroke-width="3.6" stroke-linejoin="round" stroke-linecap="round" /><path d="M618.2,1224.0 L594.0,1269.3" fill="none" stroke="#111" stroke-width="6" stroke-linejoin="round" stroke-linecap="round" /><path d="M618.2,1224.0 L594.0,1269.3" fill="none" stroke="#9fb6c4" stroke-width="3.6" stroke-linejoin="round" stroke-linecap="round" /><path d="M663.5,1249.7 L666.6,1317.7" fill="none" stroke="#111" stroke-width="6" stroke-linejoin="round" stroke-linecap="round" /><path d="M663.5,1249.7 L666.6,1317.7" fill="none" stroke="#9fb6c4" stroke-width="3.6" stroke-linejoin="round" stroke-linecap="round" /><path d="M695.3,1264.8 L671.1,1311.7" fill="none" stroke="#111" stroke-width="6" stroke-linejoin="round" stroke-linecap="round" /><path d="M695.3,1264.8 L671.1,1311.7" fill="none" stroke="#9fb6c4" stroke-width="3.6" stroke-linejoin="round" stroke-linecap="round" /><path d="M592.5,1272.4 L590.0,1278.0 L594.0,1280.0 L597.0,1276.0" fill="none" stroke="#111" stroke-width="1.6" stroke-linejoin="round" stroke-linecap="round" /><path d="M666.6,1317.7 L664.0,1323.0 L668.0,1325.0 L671.0,1321.0" fill="none" stroke="#111" stroke-width="1.6" stroke-linejoin="round" stroke-linecap="round" /><path d="M584,1202 l12,6 l-1,4 l-12,-6 z" fill="#8fabbc" stroke="#111" stroke-width="1.2"/><path d="M614,1218 l12,6 l-1,4 l-12,-6 z" fill="#8fabbc" stroke="#111" stroke-width="1.2"/><path d="M658,1243 l12,6 l-1,4 l-12,-6 z" fill="#8fabbc" stroke="#111" stroke-width="1.2"/><path d="M690,1259 l12,6 l-1,4 l-12,-6 z" fill="#8fabbc" stroke="#111" stroke-width="1.2"/><path d="M589.4,1152.9 L700.0,1211.0 L700.0,1238.0 L584.9,1174.1 Z" fill="#adc2ce" stroke="#111" stroke-width="1.6" stroke-linejoin="round" /><path d="M589.4,1152.9 L593.0,1150.0 L712.0,1213.0 L708.9,1216.4 L700.0,1211.0 Z" fill="#e3ebf0" stroke="#111" stroke-width="1.0" stroke-linejoin="round" /><path d="M700.0,1211.0 L708.9,1216.4 L712.0,1213.0 L710.5,1234.0 L707.4,1237.6 L700.0,1238.0 Z" fill="#6f93a8" stroke="#111" stroke-width="1.2" stroke-linejoin="round" /><g clip-path="url(#c11)"><path d="M654.1,201.4 C657.8,198.1 665.2,196.6 672.3,196.8 C679.4,197.0 688.5,198.8 696.5,202.4 C704.5,206.0 713.6,211.8 720.6,218.5 C727.6,225.2 734.6,234.6 738.8,242.7 C743.0,250.8 745.5,259.5 745.8,266.9 C746.1,274.3 744.0,281.9 740.8,287.1 C737.6,292.3 731.1,295.9 726.7,298.2 C722.3,300.5 720.7,302.4 714.6,301.2 C708.5,300.0 699.5,295.5 690.4,291.1 C681.3,286.7 666.9,281.7 660.2,275.0 C653.5,268.3 651.8,260.6 650.1,250.8 C648.4,241.1 649.4,224.7 650.1,216.5 C650.8,208.3 650.4,204.7 654.1,201.4 Z" fill="url(#g11)" stroke="none" stroke-width="1.6" stroke-linejoin="round" /><path d="M658.0,207.0 C660.9,204.2 665.8,202.5 672.0,202.5 C678.2,202.5 688.6,204.3 695.0,207.0 C701.4,209.7 707.0,213.9 710.6,218.5 C714.2,223.1 714.9,228.6 716.6,234.7 C718.3,240.8 719.9,248.1 720.6,254.8 C721.3,261.5 721.3,268.3 720.6,275.0 C719.9,281.7 721.7,293.5 716.6,295.2 C711.5,296.9 698.8,289.0 690.0,285.0 C681.2,281.0 669.8,276.8 664.0,271.0 C658.2,265.2 656.6,258.7 655.0,250.0 C653.4,241.3 654.0,226.2 654.5,219.0 C655.0,211.8 655.1,209.8 658.0,207.0 Z" fill="#7e9db1" stroke="none" stroke-width="1.6" stroke-linejoin="round" /><path d="M660.0,210.0 L694.0,210.0 L712.0,224.0 L716.0,240.0 L700.0,238.0 L690.0,241.0 L670.0,262.0 L661.0,250.0 Z" fill="#6c8ea3" stroke="none" stroke-width="1.6" stroke-linejoin="round" /><path d="M662.0,262.0 C663.7,257.3 668.7,251.0 675.0,247.0 C681.3,243.0 693.2,238.3 700.0,238.0 C706.8,237.7 712.6,242.0 716.0,245.0 C719.4,248.0 719.9,248.2 720.6,256.0 C721.3,263.8 721.4,285.2 720.0,292.0 C718.6,298.8 717.0,297.7 712.0,297.0 C707.0,296.3 697.8,291.7 690.0,288.0 C682.2,284.3 669.7,279.3 665.0,275.0 C660.3,270.7 660.3,266.7 662.0,262.0 Z" fill="#bfcfd9" stroke="none" stroke-width="1.6" stroke-linejoin="round" /><path d="M660.0,214.0 L668.0,210.0 L672.0,232.0 L664.0,236.0 Z" fill="#a9bfcc" stroke="#1c2c37" stroke-width="0.8" stroke-linejoin="round" /><ellipse cx="676.3" cy="252.6" rx="4.5" ry="3.5" fill="#fcfefc" stroke="#1c2c37" stroke-width="0.8" transform="rotate(-30 676.3 252.6)"/><path d="M661.8,207.8 C668.2,210.8 692.9,220.6 700.5,226.0 C708.1,231.4 706.5,238.1 707.7,240.5" fill="none" stroke="#1c2c37" stroke-width="2.2" stroke-linejoin="round" stroke-linecap="round" /><path d="M700.0,228.0 C701.0,231.7 704.0,239.7 706.0,250.0 C708.0,260.3 711.0,283.3 712.0,290.0" fill="none" stroke="#1c2c37" stroke-width="1.4" stroke-linejoin="round" stroke-linecap="round" /><path d="M662.0,262.0 C666.7,265.2 681.0,275.7 690.0,281.0 C699.0,286.3 711.7,291.8 716.0,294.0" fill="none" stroke="#1c2c37" stroke-width="1.5" stroke-linejoin="round" stroke-linecap="round" /><path d="M682.3,270.7 L702.9,247.7" fill="none" stroke="#1c2c37" stroke-width="1.5" stroke-linejoin="round" stroke-linecap="round" /><path d="M692.0,280.0 L711.0,258.0" fill="none" stroke="#1c2c37" stroke-width="1.5" stroke-linejoin="round" stroke-linecap="round" /><path d="M703.0,287.0 L716.0,270.0" fill="none" stroke="#1c2c37" stroke-width="1.5" stroke-linejoin="round" stroke-linecap="round" /><path d="M676.0,286.0 L710.0,293.0" fill="none" stroke="#1c2c37" stroke-width="1.2" stroke-linejoin="round" stroke-linecap="round" /><path d="M658.0,207.0 C660.9,204.2 665.8,202.5 672.0,202.5 C678.2,202.5 688.6,204.3 695.0,207.0 C701.4,209.7 707.0,213.9 710.6,218.5 C714.2,223.1 714.9,228.6 716.6,234.7 C718.3,240.8 719.9,248.1 720.6,254.8 C721.3,261.5 721.3,268.3 720.6,275.0 C719.9,281.7 721.7,293.5 716.6,295.2 C711.5,296.9 698.8,289.0 690.0,285.0 C681.2,281.0 669.8,276.8 664.0,271.0 C658.2,265.2 656.6,258.7 655.0,250.0 C653.4,241.3 654.0,226.2 654.5,219.0 C655.0,211.8 655.1,209.8 658.0,207.0 Z" fill="none" stroke="#1c2c37" stroke-width="1.2" stroke-linejoin="round" /><path d="M664.0,203.0 C669.1,205.8 687.1,214.7 694.4,219.9 C701.7,225.1 703.9,228.6 707.7,234.4 C711.5,240.2 715.0,248.3 717.4,255.0 C719.8,261.6 721.8,267.7 722.2,274.3 C722.6,280.9 721.0,290.7 719.8,294.9 C718.6,299.1 715.8,298.9 715.0,299.7" fill="none" stroke="#16222b" stroke-width="2.2" stroke-linejoin="round" stroke-linecap="round" /></g><path d="M654.1,201.4 C657.8,198.1 665.2,196.6 672.3,196.8 C679.4,197.0 688.5,198.8 696.5,202.4 C704.5,206.0 713.6,211.8 720.6,218.5 C727.6,225.2 734.6,234.6 738.8,242.7 C743.0,250.8 745.5,259.5 745.8,266.9 C746.1,274.3 744.0,281.9 740.8,287.1 C737.6,292.3 731.1,295.9 726.7,298.2 C722.3,300.5 720.7,302.4 714.6,301.2 C708.5,300.0 699.5,295.5 690.4,291.1 C681.3,286.7 666.9,281.7 660.2,275.0 C653.5,268.3 651.8,260.6 650.1,250.8 C648.4,241.1 649.4,224.7 650.1,216.5 C650.8,208.3 650.4,204.7 654.1,201.4 Z" fill="none" stroke="#111" stroke-width="2" stroke-linejoin="round" /><path d="M574.2,316.2 L567.9,381.1" fill="none" stroke="#16222b" stroke-width="6.5" stroke-linejoin="round" stroke-linecap="round" /><path d="M574.2,316.2 L567.9,381.1" fill="none" stroke="#b3c6d2" stroke-width="3.8" stroke-linejoin="round" stroke-linecap="round" /><path d="M628.5,331.7 L620.1,411.5" fill="none" stroke="#16222b" stroke-width="6.5" stroke-linejoin="round" stroke-linecap="round" /><path d="M628.5,331.7 L620.1,411.5" fill="none" stroke="#b3c6d2" stroke-width="3.8" stroke-linejoin="round" stroke-linecap="round" /><path d="M567.9,381.1 C567.4,381.6 566.4,383.4 565.0,384.0 C563.6,384.6 563.6,384.3 559.4,384.5 C555.2,384.7 544.9,384.9 540.0,385.0 C535.1,385.1 532.5,384.6 529.8,385.4 C527.1,386.2 525.0,389.2 524.0,390.0" fill="none" stroke="#16222b" stroke-width="3.2" stroke-linejoin="round" stroke-linecap="round" /><path d="M567.9,381.1 C567.4,381.6 566.4,383.4 565.0,384.0 C563.6,384.6 563.6,384.3 559.4,384.5 C555.2,384.7 544.9,384.9 540.0,385.0 C535.1,385.1 532.5,384.6 529.8,385.4 C527.1,386.2 525.0,389.2 524.0,390.0" fill="none" stroke="#8fabbc" stroke-width="1.2" stroke-linejoin="round" stroke-linecap="round" /><path d="M517.0,393.0 L522.0,390.0 L525.0,398.0 L520.0,401.0 Z" fill="#2a3a46" stroke="#111" stroke-width="1" stroke-linejoin="round" /><g clip-path="url(#cmB)"><path d="M565.0,251.3 L570.7,249.9 L589.0,255.5 L608.8,265.4 L614.4,271.0 L622.9,279.5 L625.7,293.6 L632.8,296.4 L637.0,310.6 L637.0,323.3 L632.8,327.5 L620.1,330.3 L606.0,333.1 L597.5,328.9 L582.0,323.3 L569.3,313.4 L567.9,303.5 L558.0,300.7 L555.2,288.0 L556.6,266.8 L560.8,262.6 L563.6,254.1 Z" fill="#6a8ca1" stroke="none" stroke-width="1.6" stroke-linejoin="round" /><path d="M556.6,265.5 L566.0,262.0 L571.0,270.0 L571.0,302.0 L560.0,299.0 L556.0,288.0 Z" fill="#9db6c5" stroke="#16222b" stroke-width="1.2" stroke-linejoin="round" /><path d="M558.0,276.0 L565.0,277.0 L566.0,296.0 L558.0,294.0 Z" fill="#c0d0da" stroke="none" stroke-width="1.6" stroke-linejoin="round" /><path d="M571.0,268.8 L586.6,275.0 L586.6,312.0 L572.0,305.0 Z" fill="#aac0cd" stroke="#16222b" stroke-width="1.2" stroke-linejoin="round" /><path d="M587.7,276.6 L603.2,283.0 L603.2,313.2 L588.7,307.0 Z" fill="#9cb5c5" stroke="#16222b" stroke-width="1.2" stroke-linejoin="round" /><path d="M579.0,282.0 L580.0,304.0" fill="none" stroke="#16222b" stroke-width="3.2" stroke-linejoin="round" stroke-linecap="round" /><path d="M595.0,290.0 L596.0,306.0" fill="none" stroke="#16222b" stroke-width="2.5" stroke-linejoin="round" stroke-linecap="round" /><path d="M565.5,261.0 L578.8,251.1 L606.5,265.5 L613.2,273.3 L606.5,279.9 L586.6,269.9 L573.3,265.5 Z" fill="#cad8e1" stroke="#16222b" stroke-width="1.3" stroke-linejoin="round" /><path d="M574.0,256.0 L580.0,262.0" fill="none" stroke="#16222b" stroke-width="2.2" stroke-linejoin="round" stroke-linecap="round" /><path d="M585.0,258.0 L590.0,266.0" fill="none" stroke="#16222b" stroke-width="2.2" stroke-linejoin="round" stroke-linecap="round" /><path d="M596.0,262.0 L600.0,270.0" fill="none" stroke="#16222b" stroke-width="2.2" stroke-linejoin="round" stroke-linecap="round" /><path d="M605.0,268.0 L604.0,276.0" fill="none" stroke="#16222b" stroke-width="2.2" stroke-linejoin="round" stroke-linecap="round" /><path d="M577.0,256.0 L583.0,254.0 L586.0,259.0 L580.0,261.0 Z" fill="#6a8ca1" stroke="none" stroke-width="1.6" stroke-linejoin="round" /><path d="M598.0,265.0 L604.0,264.0 L607.0,270.0 L601.0,271.0 Z" fill="#6a8ca1" stroke="none" stroke-width="1.6" stroke-linejoin="round" /><path d="M604.3,292.1 L613.0,286.0 L630.9,295.4 L637.6,319.8 L612.1,332.0 L604.3,317.6 Z" fill="#5b8197" stroke="#16222b" stroke-width="1.4" stroke-linejoin="round" /><path d="M606.0,293.0 L616.0,290.0 L622.0,296.0 L612.0,300.0 Z" fill="#b3c6d2" stroke="#16222b" stroke-width="1" stroke-linejoin="round" /><path d="M610.0,318.0 L634.0,309.0" fill="none" stroke="#16222b" stroke-width="2" stroke-linejoin="round" stroke-linecap="round" /><path d="M614.0,326.0 L626.0,322.0" fill="none" stroke="#b3c6d2" stroke-width="1.5" stroke-linejoin="round" stroke-linecap="round" /><path d="M569.0,306.0 L606.0,322.0 L612.0,332.0 L606.0,333.0 L597.5,328.9 L582.0,323.3 L569.3,313.4 Z" fill="#16222b" stroke="none" stroke-width="1.6" stroke-linejoin="round" /><path d="M612.0,273.0 L622.0,280.0 L625.0,293.0 L613.0,288.0 Z" fill="#7f9fb2" stroke="#16222b" stroke-width="1.2" stroke-linejoin="round" /></g><path d="M565.0,251.3 L570.7,249.9 L589.0,255.5 L608.8,265.4 L614.4,271.0 L622.9,279.5 L625.7,293.6 L632.8,296.4 L637.0,310.6 L637.0,323.3 L632.8,327.5 L620.1,330.3 L606.0,333.1 L597.5,328.9 L582.0,323.3 L569.3,313.4 L567.9,303.5 L558.0,300.7 L555.2,288.0 L556.6,266.8 L560.8,262.6 L563.6,254.1 Z" fill="none" stroke="#111" stroke-width="2" stroke-linejoin="round" /><g clip-path="url(#cmA)"><path d="M434.7,337.0 L441.9,331.1 L445.9,330.5 L457.7,338.3 L466.8,342.3 L473.4,351.5 L481.3,352.8 L491.7,358.0 L499.6,368.5 L504.8,382.9 L503.5,393.4 L507.5,401.3 L507.5,411.7 L500.9,418.3 L491.7,422.2 L481.3,422.2 L472.1,417.0 L455.0,405.2 L444.6,401.3 L439.3,393.4 L435.4,385.5 L434.1,356.7 Z" fill="#7d9db0" stroke="none" stroke-width="1.6" stroke-linejoin="round" /><path d="M438.0,350.1 L455.0,350.1 L456.4,390.8 L439.3,382.9 Z" fill="#a7bdca" stroke="#1c2c37" stroke-width="1" stroke-linejoin="round" /><path d="M457.7,346.2 L469.5,354.1 L469.5,398.6 L459.0,393.4 Z" fill="#b3c6d2" stroke="#1c2c37" stroke-width="1" stroke-linejoin="round" /><path d="M470.8,359.3 L486.5,369.8 L489.1,403.9 L472.1,400.0 Z" fill="#a7bdca" stroke="#1c2c37" stroke-width="1" stroke-linejoin="round" /><path d="M486.5,369.8 L499.6,368.5 L504.8,382.9 L503.5,393.4 L490.0,396.0 Z" fill="#8fabbc" stroke="#1c2c37" stroke-width="1" stroke-linejoin="round" /><path d="M444.6,352.8 L446.5,381.6" fill="none" stroke="#111" stroke-width="3" stroke-linejoin="round" stroke-linecap="round" /><path d="M476.0,369.8 L478.0,398.6" fill="none" stroke="#111" stroke-width="3" stroke-linejoin="round" stroke-linecap="round" /><path d="M434.7,337.0 L441.9,331.1 L445.9,330.5 L457.7,338.3 L466.8,342.3 L473.4,351.5 L481.3,352.8 L491.7,358.0 L496.0,364.0 L486.0,366.0 L470.0,357.0 L456.0,345.0 L438.0,348.0 Z" fill="#1f2f3a" stroke="none" stroke-width="1.6" stroke-linejoin="round" /><path d="M443.0,334.0 L449.0,336.0 L447.0,341.0 L441.0,339.0 Z" fill="#c9d7e0" stroke="none" stroke-width="1.6" stroke-linejoin="round" /><path d="M452.0,340.0 L458.0,343.0 L456.0,348.0 L450.0,345.0 Z" fill="#c9d7e0" stroke="none" stroke-width="1.6" stroke-linejoin="round" /><path d="M473.0,352.0 L480.0,355.0 L478.0,360.0 L471.0,357.0 Z" fill="#c9d7e0" stroke="none" stroke-width="1.6" stroke-linejoin="round" /><path d="M484.0,358.0 L491.0,361.0 L489.0,366.0 L482.0,363.0 Z" fill="#c9d7e0" stroke="none" stroke-width="1.6" stroke-linejoin="round" /><path d="M440.0,393.0 L507.0,405.0 L507.5,411.7 L500.9,418.3 L491.7,422.2 L481.3,422.2 L472.1,417.0 L455.0,405.2 L444.6,401.3 Z" fill="#5e8499" stroke="none" stroke-width="1.6" stroke-linejoin="round" /><path d="M442.0,395.0 L470.0,403.0 L500.0,410.0" fill="none" stroke="#111" stroke-width="1.4" stroke-linejoin="round" stroke-linecap="round" /></g><path d="M434.7,337.0 L441.9,331.1 L445.9,330.5 L457.7,338.3 L466.8,342.3 L473.4,351.5 L481.3,352.8 L491.7,358.0 L499.6,368.5 L504.8,382.9 L503.5,393.4 L507.5,401.3 L507.5,411.7 L500.9,418.3 L491.7,422.2 L481.3,422.2 L472.1,417.0 L455.0,405.2 L444.6,401.3 L439.3,393.4 L435.4,385.5 L434.1,356.7 Z" fill="none" stroke="#111" stroke-width="2" stroke-linejoin="round" /><path d="M445,401 l6,1 l0,6 l-6,-1 z" fill="#8fabbc" stroke="#111" stroke-width="1.2"/><path d="M459,409 l6,1 l0,6 l-6,-1 z" fill="#8fabbc" stroke="#111" stroke-width="1.2"/><path d="M483,419 l6,1 l0,6 l-6,-1 z" fill="#8fabbc" stroke="#111" stroke-width="1.2"/><g clip-path="url(#c8)"><path d="M166.2,480.5 C170.2,479.7 173.6,478.8 180.3,481.5 C187.0,484.2 199.1,491.7 206.5,496.6 C213.9,501.5 220.0,504.6 224.7,510.7 C229.4,516.8 232.5,524.5 234.8,532.9 C237.2,541.3 238.5,553.0 238.8,561.1 C239.1,569.2 238.5,576.4 236.8,581.3 C235.1,586.2 232.1,588.7 228.7,590.4 C225.3,592.1 221.3,592.2 216.6,591.4 C211.9,590.5 209.9,589.7 200.5,585.3 C191.1,580.9 168.9,571.2 160.2,565.2 C151.5,559.2 150.8,556.4 148.1,549.0 C145.4,541.6 144.0,529.2 144.0,520.8 C144.0,512.4 146.1,504.3 148.1,498.6 C150.1,492.9 153.1,489.5 156.1,486.5 C159.1,483.5 162.2,481.3 166.2,480.5 Z" fill="url(#g8s)" stroke="none" stroke-width="1.6" stroke-linejoin="round" /><path d="M148.0,496.0 C150.0,491.0 150.7,491.2 156.1,490.6 C161.5,490.0 171.9,489.9 180.3,492.6 C188.7,495.3 200.8,502.0 206.5,506.7 C212.2,511.4 212.8,515.1 214.6,520.8 C216.4,526.5 217.3,530.9 217.6,541.0 C217.9,551.1 217.4,573.2 216.6,581.3 C215.8,589.4 215.3,588.7 212.6,589.4 C209.9,590.1 209.2,589.3 200.5,585.3 C191.8,581.3 168.9,571.2 160.2,565.2 C151.5,559.2 150.8,556.4 148.1,549.0 C145.4,541.6 144.0,529.6 144.0,520.8 C144.0,512.0 146.0,501.0 148.0,496.0 Z" fill="url(#g8f)" stroke="none" stroke-width="1.6" stroke-linejoin="round" /><path d="M171.3,496.6 L196.5,510.7 L193.4,581.3 L167.2,565.2 Z" fill="#a5bcca" stroke="none" stroke-width="1.6" stroke-linejoin="round" /><path d="M150.0,494.0 C151.0,493.4 151.0,490.8 156.1,490.6 C161.2,490.4 171.9,489.9 180.3,492.6 C188.7,495.3 200.8,502.0 206.5,506.7 C212.2,511.4 212.8,515.1 214.6,520.8 C216.4,526.5 217.3,530.9 217.6,541.0 C217.9,551.1 217.4,573.2 216.6,581.3 C215.8,589.4 213.3,588.0 212.6,589.4" fill="none" stroke="#1c2c37" stroke-width="1.0" stroke-linejoin="round" stroke-linecap="round" /><path d="M158.0,487.0 C161.8,487.3 172.5,486.2 181.0,489.0 C189.5,491.8 202.8,498.8 209.0,504.0 C215.2,509.2 216.0,513.8 218.0,520.0 C220.0,526.2 220.7,530.7 221.0,541.0 C221.3,551.3 220.8,573.8 220.0,582.0 C219.2,590.2 216.7,588.7 216.0,590.0" fill="none" stroke="#55707f" stroke-width="0.7" stroke-linejoin="round" stroke-linecap="round" /><path d="M171.3,496.6 C170.8,502.2 169.2,518.6 168.5,530.0 C167.8,541.4 167.4,559.3 167.2,565.2" fill="none" stroke="#1c2c37" stroke-width="0.9" stroke-linejoin="round" stroke-linecap="round" /><path d="M196.5,510.7 C196.2,516.4 195.0,533.2 194.5,545.0 C194.0,556.8 193.6,575.2 193.4,581.3" fill="none" stroke="#1c2c37" stroke-width="0.9" stroke-linejoin="round" stroke-linecap="round" /><ellipse cx="195" cy="496" rx="18" ry="6" fill="#f4f7f9" opacity="0.7" transform="rotate(28 195 496)"/></g><path d="M166.2,480.5 C170.2,479.7 173.6,478.8 180.3,481.5 C187.0,484.2 199.1,491.7 206.5,496.6 C213.9,501.5 220.0,504.6 224.7,510.7 C229.4,516.8 232.5,524.5 234.8,532.9 C237.2,541.3 238.5,553.0 238.8,561.1 C239.1,569.2 238.5,576.4 236.8,581.3 C235.1,586.2 232.1,588.7 228.7,590.4 C225.3,592.1 221.3,592.2 216.6,591.4 C211.9,590.5 209.9,589.7 200.5,585.3 C191.1,580.9 168.9,571.2 160.2,565.2 C151.5,559.2 150.8,556.4 148.1,549.0 C145.4,541.6 144.0,529.2 144.0,520.8 C144.0,512.4 146.1,504.3 148.1,498.6 C150.1,492.9 153.1,489.5 156.1,486.5 C159.1,483.5 162.2,481.3 166.2,480.5 Z" fill="none" stroke="#111" stroke-width="2" stroke-linejoin="round" /><g clip-path="url(#chc)"><path d="M261.0,430.1 C266.0,429.1 270.4,429.4 277.1,432.1 C283.8,434.8 294.6,440.8 301.3,446.2 C308.0,451.6 313.4,457.0 317.4,464.4 C321.4,471.8 324.0,481.2 325.5,490.6 C327.0,500.0 327.5,513.4 326.5,520.8 C325.5,528.2 322.6,531.9 319.4,534.9 C316.2,537.9 311.0,538.8 307.3,539.0 C303.6,539.2 307.0,540.9 297.3,535.9 C287.6,530.9 258.6,515.6 248.9,508.7 C239.2,501.8 241.2,501.0 238.8,494.6 C236.5,488.2 234.8,477.4 234.8,470.4 C234.8,463.3 236.8,457.7 238.8,452.3 C240.8,446.9 243.2,441.8 246.9,438.1 C250.6,434.4 256.0,431.1 261.0,430.1 Z" fill="url(#ghcs)" stroke="none" stroke-width="1.6" stroke-linejoin="round" /><path d="M244.8,446.2 C248.5,443.5 252.9,441.8 261.0,444.2 C269.1,446.6 286.1,454.9 293.2,460.3 C300.2,465.7 301.3,464.4 303.3,476.5 C305.3,488.6 314.4,527.9 305.3,532.9 C296.2,537.9 260.3,514.4 248.9,506.7 C237.5,499.0 238.5,494.2 236.8,486.5 C235.1,478.8 237.5,467.0 238.8,460.3 C240.1,453.6 241.1,448.9 244.8,446.2 Z" fill="url(#ghcf)" stroke="none" stroke-width="1.6" stroke-linejoin="round" /><path d="M244.8,446.2 C248.5,443.5 252.9,441.8 261.0,444.2 C269.1,446.6 286.1,454.9 293.2,460.3 C300.2,465.7 301.3,464.4 303.3,476.5 C305.3,488.6 314.4,527.9 305.3,532.9 C296.2,537.9 260.3,514.4 248.9,506.7 C237.5,499.0 238.5,494.2 236.8,486.5 C235.1,478.8 237.5,467.0 238.8,460.3 C240.1,453.6 241.1,448.9 244.8,446.2 Z" fill="none" stroke="#1c2c37" stroke-width="1.1" stroke-linejoin="round" /><path d="M242.0,442.0 C245.2,441.7 252.0,437.5 261.0,440.0 C270.0,442.5 288.3,451.2 296.0,457.0 C303.7,462.8 304.8,462.3 307.0,475.0 C309.2,487.7 308.7,523.3 309.0,533.0" fill="none" stroke="#55707f" stroke-width="0.7" stroke-linejoin="round" stroke-linecap="round" /></g><path d="M261.0,430.1 C266.0,429.1 270.4,429.4 277.1,432.1 C283.8,434.8 294.6,440.8 301.3,446.2 C308.0,451.6 313.4,457.0 317.4,464.4 C321.4,471.8 324.0,481.2 325.5,490.6 C327.0,500.0 327.5,513.4 326.5,520.8 C325.5,528.2 322.6,531.9 319.4,534.9 C316.2,537.9 311.0,538.8 307.3,539.0 C303.6,539.2 307.0,540.9 297.3,535.9 C287.6,530.9 258.6,515.6 248.9,508.7 C239.2,501.8 241.2,501.0 238.8,494.6 C236.5,488.2 234.8,477.4 234.8,470.4 C234.8,463.3 236.8,457.7 238.8,452.3 C240.8,446.9 243.2,441.8 246.9,438.1 C250.6,434.4 256.0,431.1 261.0,430.1 Z" fill="none" stroke="#111" stroke-width="2" stroke-linejoin="round" /><circle cx="323" cy="470" r="2.5" fill="#1c2c37"/><path d="M339.1,386.8 C340.9,384.3 341.8,381.3 348.1,382.7 C354.5,384.1 369.0,390.8 377.2,395.0 C385.4,399.2 392.5,403.5 397.2,407.7 C401.9,411.9 402.7,413.8 405.3,420.4 C407.9,427.0 411.8,437.8 412.6,447.6 C413.4,457.4 411.6,472.9 409.9,479.4 C408.2,485.9 405.3,485.6 402.6,486.6 C399.9,487.7 402.6,489.9 393.5,485.7 C384.4,481.5 357.2,467.2 348.1,461.2 C339.0,455.1 341.2,456.2 339.1,449.4 C337.0,442.6 335.7,429.0 335.4,420.4 C335.1,411.8 336.7,403.3 337.3,397.7 C337.9,392.1 337.3,389.3 339.1,386.8 Z" fill="none" stroke="#16222b" stroke-width="4.6" stroke-linejoin="round" /><path d="M339.1,386.8 C340.9,384.3 341.8,381.3 348.1,382.7 C354.5,384.1 369.0,390.8 377.2,395.0 C385.4,399.2 392.5,403.5 397.2,407.7 C401.9,411.9 402.7,413.8 405.3,420.4 C407.9,427.0 411.8,437.8 412.6,447.6 C413.4,457.4 411.6,472.9 409.9,479.4 C408.2,485.9 405.3,485.6 402.6,486.6 C399.9,487.7 402.6,489.9 393.5,485.7 C384.4,481.5 357.2,467.2 348.1,461.2 C339.0,455.1 341.2,456.2 339.1,449.4 C337.0,442.6 335.7,429.0 335.4,420.4 C335.1,411.8 336.7,403.3 337.3,397.7 C337.9,392.1 337.3,389.3 339.1,386.8 Z" fill="none" stroke="#6f8ea0" stroke-width="0.8" stroke-linejoin="round" /><path d="M368.5,395.0 L367.0,468.0" fill="none" stroke="#16222b" stroke-width="5" stroke-linejoin="round" stroke-linecap="round" /><path d="M368.5,395.0 L367.0,468.0" fill="none" stroke="#9ab3c3" stroke-width="1.8" stroke-linejoin="round" stroke-linecap="round" /><path d="M376.5,398.0 L375.5,471.0" fill="none" stroke="#16222b" stroke-width="5" stroke-linejoin="round" stroke-linecap="round" /><path d="M376.5,398.0 L375.5,471.0" fill="none" stroke="#9ab3c3" stroke-width="1.8" stroke-linejoin="round" stroke-linecap="round" /><path d="M347,388.3 l5,0 l1.5,5 l-5,1.5 z" fill="#5d7d90" stroke="#16222b" stroke-width="1.6"/><path d="M339.7,429.2 l5,0 l1.5,5 l-5,1.5 z" fill="#5d7d90" stroke="#16222b" stroke-width="1.6"/><path d="M390.5,412.8 l5,0 l1.5,5 l-5,1.5 z" fill="#5d7d90" stroke="#16222b" stroke-width="1.6"/><path d="M398.7,462.7 l5,0 l1.5,5 l-5,1.5 z" fill="#5d7d90" stroke="#16222b" stroke-width="1.6"/><path d="M548.5,441.3 L572.7,428.1 L578.8,433.2 L584.8,440.2 L641.3,470.5 L650.4,470.5 L652.4,476.5 L643.3,490.6 L627.2,514.8 L609.0,526.9 L601.0,524.9 L556.6,498.7 L548.5,488.6 L545.5,470.5 L546.5,446.3 Z M558.6,468.5 L566.7,466.5 L621.1,494.7 L611.0,514.8 L574.8,498.7 L557.6,486.6 Z" fill="#a7bdca" fill-rule="evenodd" stroke="#111" stroke-width="1.8"/><path d="M584.8,440.2 L641.3,470.5 L621.1,494.7 L566.7,466.5 L572.0,458.0 Z" fill="#c3d2dc" stroke="#1c2c37" stroke-width="0.9" stroke-linejoin="round" /><path d="M548.5,441.3 L572.7,428.1 L578.8,433.2 L584.8,440.2 L572.0,458.0 L566.7,466.5 L558.6,468.5 L553.0,470.0 Z" fill="#9db6c5" stroke="#1c2c37" stroke-width="0.9" stroke-linejoin="round" /><ellipse cx="581.8" cy="456.8" rx="5" ry="4" fill="#fcfefc" stroke="#1c2c37" stroke-width="1"/><path d="M641.3,470.5 L650.4,470.5 L652.4,476.5 L643.3,490.6 L630.0,510.0 L626.0,505.0 L638.0,486.0 Z" fill="#5f869c" stroke="#111" stroke-width="1.2" stroke-linejoin="round" /><path d="M630.0,490.0 L640.0,478.0 L646.0,480.0" fill="none" stroke="#111" stroke-width="1.2" stroke-linejoin="round" stroke-linecap="round" /><path d="M538.5,516.9 L544.5,514.8 L594.9,542.0 L592.9,548.1 L588.9,549.1 L537.5,521.9 Z" fill="#c5d4de" stroke="#111" stroke-width="1.6" stroke-linejoin="round" /><path d="M541.0,519.0 L590.0,545.0" fill="none" stroke="#7f9fb2" stroke-width="2" stroke-linejoin="round" stroke-linecap="round" /><path d="M550.6,560.2 L562.7,554.1 L570.7,553.1 L621.1,580.3 L625.2,585.4 L619.1,594.4 L620.1,598.5 L609.0,606.5 L601.0,605.5 L560.6,584.4 L554.6,574.3 L550.6,566.2 Z M562.0,566.0 L570.0,562.0 L615.0,585.0 L610.0,595.0 L603.0,597.0 L565.0,578.0 Z" fill="#9bb4c4" fill-rule="evenodd" stroke="#111" stroke-width="1.6"/><path d="M571.0,560.0 L612.0,582.0 L608.0,590.0 L568.0,570.0 Z" fill="#b3c6d2" stroke="#1c2c37" stroke-width="0.8" stroke-linejoin="round" /><circle cx="578" cy="569" r="1.8" fill="#1c2c37"/><circle cx="590" cy="575" r="1.8" fill="#1c2c37"/><circle cx="600" cy="580" r="1.8" fill="#1c2c37"/><path d="M600.0,565.0 L610.0,562.0 L615.0,567.0 L605.0,572.0 Z" fill="#8fabbc" stroke="#111" stroke-width="1.2" stroke-linejoin="round" /><path d="M777.2,163.6 C777.5,161.7 778.8,162.5 781.0,163.5 C783.2,164.5 790.6,168.1 793.5,170.9 C796.4,173.7 801.1,181.2 802.6,184.5 C804.1,187.8 805.6,194.1 804.4,195.4 C803.2,196.7 795.9,194.9 793.5,194.5 C791.1,194.1 787.9,193.3 786.3,192.6 C784.7,191.9 782.7,190.9 781.7,189.0 C780.7,187.1 779.1,181.4 778.5,178.0 C777.9,174.6 776.9,165.5 777.2,163.6 Z" fill="#a9bfcc" stroke="#16222b" stroke-width="2.6" stroke-linejoin="round" /><path d="M780.0,168.0 C780.8,167.2 788.2,172.2 790.0,174.0 C791.8,175.8 797.2,184.2 798.0,186.0 C798.8,187.8 799.0,191.7 798.0,192.0 C797.0,192.3 789.6,190.0 788.0,189.0 C786.4,188.0 782.8,184.1 782.0,182.0 C781.2,179.9 779.2,168.8 780.0,168.0 Z" fill="#b9cbd6" stroke="#2a3a46" stroke-width="0.8" stroke-linejoin="round" /><path d="M780.0,167.0 L783.0,186.0" fill="none" stroke="#16222b" stroke-width="2" stroke-linejoin="round" stroke-linecap="round" /><circle cx="786.3" cy="192.6" r="3.2" fill="#1c2c37"/><circle cx="787.5" cy="191.8" r="1.2" fill="#d6e1e8"/><path d="M784,178 l3,-2 l1,3 l-3,2 z" fill="#d6e1e8" stroke="#16222b" stroke-width="0.8"/><line x1="404.5" y1="388.0" x2="411.9" y2="382.8" stroke="#111" stroke-width="3.6"/><line x1="404.5" y1="388.0" x2="411.9" y2="382.8" stroke="#8fabbc" stroke-width="1.6"/><ellipse cx="404.5" cy="388.0" rx="2.5" ry="4.2" fill="#6a8ca1" stroke="#111" stroke-width="1.4" transform="rotate(-35 404.5 388.0)"/><line x1="749.5" y1="193.5" x2="742.9" y2="198.1" stroke="#111" stroke-width="3.6"/><line x1="749.5" y1="193.5" x2="742.9" y2="198.1" stroke="#8fabbc" stroke-width="1.6"/><ellipse cx="749.5" cy="193.5" rx="2.5" ry="4.2" fill="#6a8ca1" stroke="#111" stroke-width="1.4" transform="rotate(145 749.5 193.5)"/><line x1="514.0" y1="421.0" x2="520.6" y2="423.4" stroke="#111" stroke-width="3.6"/><line x1="514.0" y1="421.0" x2="520.6" y2="423.4" stroke="#8fabbc" stroke-width="1.6"/><ellipse cx="514.0" cy="421.0" rx="2.5" ry="4.2" fill="#6a8ca1" stroke="#111" stroke-width="1.4" transform="rotate(20 514.0 421.0)"/><line x1="781.0" y1="342.0" x2="781.7" y2="350.0" stroke="#111" stroke-width="3.6"/><line x1="781.0" y1="342.0" x2="781.7" y2="350.0" stroke="#8fabbc" stroke-width="1.6"/><ellipse cx="781.0" cy="342.0" rx="2.5" ry="4.2" fill="#6a8ca1" stroke="#111" stroke-width="1.4" transform="rotate(85 781.0 342.0)"/><line x1="843.5" y1="374.0" x2="844.2" y2="382.0" stroke="#111" stroke-width="3.6"/><line x1="843.5" y1="374.0" x2="844.2" y2="382.0" stroke="#8fabbc" stroke-width="1.6"/><ellipse cx="843.5" cy="374.0" rx="2.5" ry="4.2" fill="#6a8ca1" stroke="#111" stroke-width="1.4" transform="rotate(85 843.5 374.0)"/><line x1="748.0" y1="1203.0" x2="749.6" y2="1194.1" stroke="#111" stroke-width="3.6"/><line x1="748.0" y1="1203.0" x2="749.6" y2="1194.1" stroke="#8fabbc" stroke-width="1.6"/><ellipse cx="748.0" cy="1203.0" rx="2.5" ry="4.2" fill="#6a8ca1" stroke="#111" stroke-width="1.4" transform="rotate(-80 748.0 1203.0)"/><line x1="528.0" y1="583.0" x2="528.5" y2="589.0" stroke="#111" stroke-width="3.6"/><line x1="528.0" y1="583.0" x2="528.5" y2="589.0" stroke="#8fabbc" stroke-width="1.6"/><ellipse cx="528.0" cy="583.0" rx="2.5" ry="4.2" fill="#6a8ca1" stroke="#111" stroke-width="1.4" transform="rotate(85 528.0 583.0)"/><g transform="rotate(-20 425.5 398.6)"><ellipse cx="425.5" cy="398.6" rx="5" ry="5.5" fill="#7f9fb2" stroke="#111" stroke-width="1.6"/><ellipse cx="424.7" cy="398.1" rx="2.25" ry="2.475" fill="#c3d2dc" stroke="#1c2c37" stroke-width="0.8"/></g><path d="M356.8,525.4 L360.9,515.9 L370.8,519 L369.9,530.8 L364.5,532.2 Z" fill="#8fabbc" stroke="#111" stroke-width="1.6"/><path d="M366,517.8 L370.8,519 L369.9,530.8 L365.5,531.8 Z" fill="#1c2c37"/><circle cx="362.2" cy="524" r="2" fill="none" stroke="#1c2c37" stroke-width="1"/><path d="M611,536 L614,531 L620,532 L622,540 L619,547 L613,546 Z" fill="#5d7d90" stroke="#111" stroke-width="1.6"/><path d="M614,536 l4,0" stroke="#c3d2dc" stroke-width="1.2"/><g transform="rotate(-20 632.5 610.5)"><ellipse cx="632.5" cy="610.5" rx="4.5" ry="5" fill="#7f9fb2" stroke="#111" stroke-width="1.6"/><ellipse cx="631.7" cy="610.0" rx="2.025" ry="2.25" fill="#c3d2dc" stroke="#1c2c37" stroke-width="0.8"/></g><ellipse cx="906" cy="471" rx="6.5" ry="4.5" fill="#8fabbc" stroke="#111" stroke-width="1.6"/><ellipse cx="905" cy="470" rx="3" ry="2.2" fill="#c3d2dc" stroke="#1c2c37" stroke-width="0.8"/><line x1="912" y1="469.5" x2="917" y2="468.5" stroke="#111" stroke-width="2"/><path d="M767,647 l7,-4 l10,3 l0,6 l-7,4 l-10,-3 z" fill="#7f9fb2" stroke="#111" stroke-width="1.6"/><path d="M769,647 l6,-3 l7,2 l-6,3 z" fill="#c3d2dc"/><circle cx="534.3" cy="1147.4" r="5" fill="#2a3f4c" stroke="#111" stroke-width="1.4"/><path d="M532.5,1145.6 l3.6,3.6 M536.1,1145.6 l-3.6,3.6" stroke="#a9bfcc" stroke-width="1"/><path d="M414.4,381.6 L433.4,366.5" fill="none" stroke="#3a4d5a" stroke-width="0.8" stroke-linejoin="round" stroke-linecap="round" /><path d="M419.7,403.9 L402.6,411.7" fill="none" stroke="#3a4d5a" stroke-width="0.8" stroke-linejoin="round" stroke-linecap="round" /><path d="M510.1,420.9 L503.5,418.3" fill="none" stroke="#3a4d5a" stroke-width="0.8" stroke-linejoin="round" stroke-linecap="round" /><path d="M742.0,199.0 L730.0,208.0" fill="none" stroke="#3a4d5a" stroke-width="0.8" stroke-linejoin="round" stroke-linecap="round" /><path d="M779.9,188.1 L740.9,213.5" fill="none" stroke="#3a4d5a" stroke-width="0.8" stroke-linejoin="round" stroke-linecap="round"  stroke-dasharray="12,4"/><path d="M781.0,347.0 L779.0,380.0" fill="none" stroke="#3a4d5a" stroke-width="0.8" stroke-linejoin="round" stroke-linecap="round" /><path d="M843.0,379.0 L840.0,418.0" fill="none" stroke="#3a4d5a" stroke-width="0.8" stroke-linejoin="round" stroke-linecap="round" /><path d="M539.7,1145.8 L666.0,1124.0" fill="none" stroke="#3a4d5a" stroke-width="0.8" stroke-linejoin="round" stroke-linecap="round"  stroke-dasharray="40,4"/><path d="M747.0,1205.0 L745.0,1190.0" fill="none" stroke="#3a4d5a" stroke-width="0.8" stroke-linejoin="round" stroke-linecap="round" /><path d="M328.0,527.0 L357.0,520.0" fill="none" stroke="#3a4d5a" stroke-width="0.8" stroke-linejoin="round" stroke-linecap="round" /><path d="M370.0,524.0 L376.0,527.0" fill="none" stroke="#3a4d5a" stroke-width="0.8" stroke-linejoin="round" stroke-linecap="round" /><path d="M529.0,578.0 L529.0,566.0 L550.6,566.0" fill="none" stroke="#3a4d5a" stroke-width="0.8" stroke-linejoin="round" stroke-linecap="round" /><path d="M627.0,605.0 L620.0,598.0" fill="none" stroke="#3a4d5a" stroke-width="0.8" stroke-linejoin="round" stroke-linecap="round" /><path d="M598.0,548.0 L602.0,552.0" fill="none" stroke="#3a4d5a" stroke-width="0.8" stroke-linejoin="round" stroke-linecap="round" /><path d="M612.0,533.0 L615.0,527.0" fill="none" stroke="#3a4d5a" stroke-width="0.8" stroke-linejoin="round" stroke-linecap="round" />
<path d="M144.4,118 L153.7,108.3 L483.5,108.3 L489.6,101.9 L496.2,108.3 L825.8,108.3 L834.8,117.8" fill="none" stroke="#111" stroke-width="2"/><line x1="174.9" y1="135" x2="174.9" y2="476" stroke="#111" stroke-width="1.6"/><line x1="272.9" y1="115.4" x2="272.9" y2="426.7" stroke="#111" stroke-width="1.2"/><line x1="355.6" y1="135" x2="355.6" y2="380.1" stroke="#111" stroke-width="1.6"/><line x1="478.3" y1="116" x2="478.3" y2="341.6" stroke="#111" stroke-width="1.2"/><line x1="595.3" y1="115.4" x2="595.3" y2="251.8" stroke="#111" stroke-width="1.2"/><line x1="688.8" y1="132.9" x2="688.8" y2="194.4" stroke="#111" stroke-width="1.6"/><line x1="751" y1="133" x2="751" y2="189.3" stroke="#111" stroke-width="1.6"/><line x1="806.3" y1="191.3" x2="806.3" y2="219.6" stroke="#111" stroke-width="1.6"/><line x1="409.4" y1="350.8" x2="409.4" y2="379.6" stroke="#111" stroke-width="1.6"/><line x1="434.3" y1="399.3" x2="434.3" y2="420.9" stroke="#111" stroke-width="1.6"/><line x1="522.5" y1="422" x2="522.5" y2="440.2" stroke="#111" stroke-width="1.6"/><line x1="638.3" y1="443.3" x2="638.3" y2="464.4" stroke="#111" stroke-width="1.6"/><line x1="510.2" y1="518.9" x2="538.5" y2="518.9" stroke="#111" stroke-width="1.6"/><line x1="627.2" y1="533" x2="641.3" y2="533" stroke="#111" stroke-width="1.6"/><line x1="510.2" y1="584.8" x2="525.4" y2="584.8" stroke="#111" stroke-width="1.6"/><line x1="589.9" y1="592.4" x2="589.9" y2="625.7" stroke="#111" stroke-width="1.6"/><line x1="637.3" y1="610.6" x2="637.3" y2="626.7" stroke="#111" stroke-width="1.6"/><line x1="791.1" y1="339.9" x2="809.5" y2="339.9" stroke="#111" stroke-width="1.6"/><line x1="853.8" y1="373.7" x2="873" y2="373.7" stroke="#111" stroke-width="1.6"/><line x1="913" y1="432" x2="913" y2="462" stroke="#111" stroke-width="1.6"/><line x1="778" y1="615" x2="778" y2="645" stroke="#111" stroke-width="1.6"/><line x1="858.9" y1="602" x2="901.2" y2="602" stroke="#111" stroke-width="1.6"/><line x1="641.2" y1="830.2" x2="677.7" y2="830.2" stroke="#111" stroke-width="1.6"/><line x1="347.7" y1="1027.4" x2="385.2" y2="1027.4" stroke="#111" stroke-width="1.6"/><line x1="515.4" y1="1143.9" x2="531" y2="1143.9" stroke="#111" stroke-width="1.6"/><line x1="494.1" y1="1235.4" x2="594.9" y2="1235.4" stroke="#111" stroke-width="1.2"/><line x1="759.6" y1="1201.5" x2="797.4" y2="1201.5" stroke="#111" stroke-width="1.6"/><line x1="369.9" y1="527" x2="369.9" y2="547.2" stroke="#111" stroke-width="1.6"/><line x1="493.2" y1="1035.8" x2="684.2" y2="1035.8" stroke="#111" stroke-width="1.6"/><path d="M496,1011.3 L486.9,1019.7 L487,1137 L480.2,1142.8 L487,1149.3 L487,1264.9 L496.6,1273.9" fill="none" stroke="#111" stroke-width="2"/>
<g font-family="Liberation Sans" font-size="22.5" fill="#111" stroke="#111" stroke-width="0.5"><text x="169.0" y="128.9">8</text><text x="349.6" y="128.9">9</text><text x="381.8" y="129.1">13</text><text x="423.2" y="129.1">14</text><text x="504.2" y="129.0">15</text><text x="484.1" y="97.1">7</text><text x="672.7" y="128.9">11</text><text x="734.7" y="129.0">12</text><text x="791.4" y="239.0">16</text><text x="394.9" y="347.0">10</text><text x="418.1" y="436.8">14</text><text x="507.2" y="460.9">15</text><text x="624.3" y="437.6">17</text><text x="486.4" y="526.0">22</text><text x="640.3" y="540.3">18</text><text x="486.4" y="591.6">24</text><text x="577.5" y="644.5">23</text><text x="624.5" y="644.6">24</text><text x="813.3" y="345.8">6</text><text x="875.8" y="380.9">6</text><text x="906.0" y="426.5">5</text><text x="771.6" y="610.2">4</text><text x="904.2" y="609.8">3</text><text x="678.6" y="836.9">2</text><text x="383.9" y="1034.3">1</text><text x="451.7" y="1151.1">19</text><text x="489.2" y="1151.1">20</text><text x="488.8" y="1208.6">21</text><text x="796.2" y="1208.4">21</text><text x="354.4" y="564.0">13</text></g>

<g>
<g font-family="Liberation Sans" font-weight="bold" font-size="150" fill="rgb(245,130,130)" fill-opacity="0.2">
<text transform="translate(0,727.6) scale(0.9377,1)" x="75.35" y="0" letter-spacing="2.5">scude</text>
<text transform="translate(0,727.6) scale(0.9377,1)" x="516.9" y="0">r</text>
<text transform="translate(0,727.6) scale(0.9377,1)" x="576.5" y="0">i</text>
<text transform="translate(0,727.6) scale(0.79,1)" x="738.2" y="0">a</text>
</g>
<text transform="translate(0,786.8) scale(0.94,1)" x="78.6" y="0" font-family="Liberation Sans" font-weight="bold" font-size="44.6" fill="#dcdcdc" fill-opacity="0.62" letter-spacing="53.5" style="white-space:pre">car parts</text>
</g>

</svg>
</body></html>
